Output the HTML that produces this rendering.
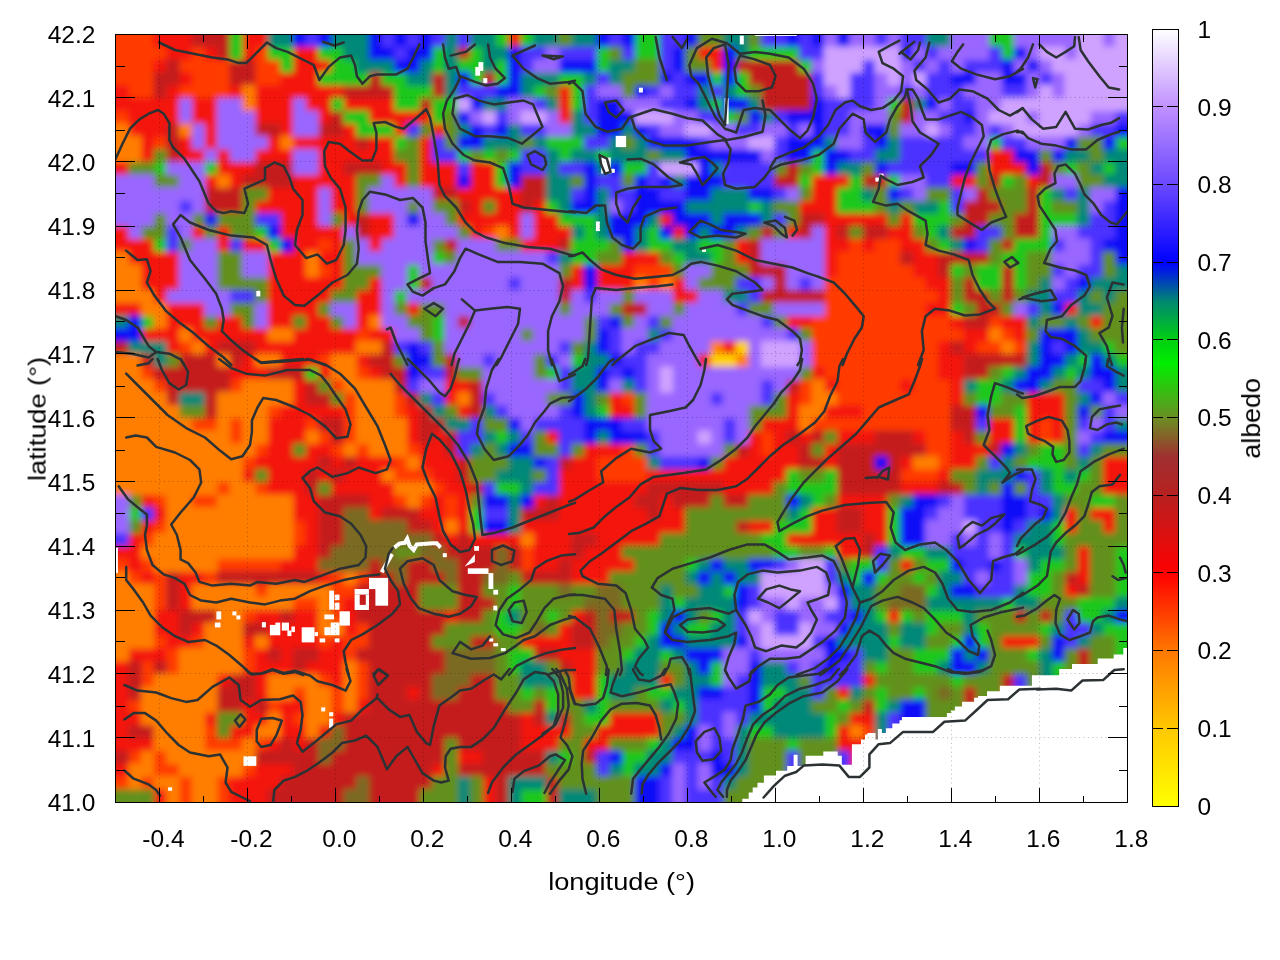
<!DOCTYPE html>
<html><head><meta charset="utf-8"><title>albedo</title>
<style>
html,body{margin:0;padding:0;background:#fff;}
body{width:1280px;height:960px;overflow:hidden;font-family:"Liberation Sans",sans-serif;}
svg{display:block}
text{font-family:"Liberation Sans",sans-serif;font-size:24.5px;fill:#000}
</style></head><body>
<svg width="1280" height="960" viewBox="0 0 1280 960">
<defs>
<filter id="bl" x="-3%" y="-3%" width="106%" height="106%"><feGaussianBlur stdDeviation="3.2"/></filter>
<filter id="b2" x="-3%" y="-3%" width="106%" height="106%"><feGaussianBlur stdDeviation="0.7"/></filter>
<clipPath id="cp"><rect x="116" y="35" width="1011" height="767"/></clipPath>
<linearGradient id="cb" x1="0" y1="1" x2="0" y2="0">
<stop offset="0" stop-color="#ffff00"/><stop offset="0.1" stop-color="#ffc800"/><stop offset="0.2" stop-color="#ff7800"/>
<stop offset="0.3" stop-color="#ff0000"/><stop offset="0.4" stop-color="#b82020"/><stop offset="0.45" stop-color="#a03030"/><stop offset="0.5" stop-color="#6b8e23"/>
<stop offset="0.57" stop-color="#00ee00"/><stop offset="0.6" stop-color="#00d010"/><stop offset="0.65" stop-color="#008870"/><stop offset="0.7" stop-color="#0000ff"/>
<stop offset="0.8" stop-color="#6a48ff"/><stop offset="0.9" stop-color="#c090ff"/><stop offset="1" stop-color="#ffffff"/>
</linearGradient>
</defs>
<rect width="1280" height="960" fill="#fff"/>
<g clip-path="url(#cp)"><g filter="url(#bl)"><path fill="#ff3a00" d="M102.0 20.0H154.2V47.1H102.0zM102.0 46.5H166.9V59.9H102.0zM191.6 46.5H204.9V59.9H191.6zM254.8 46.5H268.1V59.9H254.8zM102.0 59.3H154.2V72.7H102.0zM178.9 59.3H230.2V72.7H178.9zM254.8 59.3H280.8V72.7H254.8zM102.0 72.1H154.2V85.5H102.0zM191.6 72.1H230.2V85.5H191.6zM254.8 72.1H280.8V85.5H254.8zM128.3 84.9H154.2V98.3H128.3zM178.9 84.9H230.2V98.3H178.9zM102.0 110.5H129.0V123.9H102.0zM153.6 136.1H166.9V149.5H153.6zM482.6 225.7H495.8V239.1H482.6zM318.1 238.5H331.4V251.9H318.1zM849.4 238.5H862.6V251.9H849.4zM874.7 238.5H900.6V251.9H874.7zM836.8 251.3H900.6V264.7H836.8zM318.1 264.1H331.4V277.5H318.1zM634.4 264.1H672.9V277.5H634.4zM836.8 264.1H913.2V277.5H836.8zM647.0 276.9H660.2V290.3H647.0zM824.1 276.9H925.9V290.3H824.1zM824.1 289.7H938.5V303.1H824.1zM824.1 302.5H925.9V315.9H824.1zM811.5 315.3H951.2V328.7H811.5zM988.6 315.3H1001.8V328.7H988.6zM356.1 328.1H369.3V341.5H356.1zM811.5 328.1H963.9V341.5H811.5zM1001.2 328.1H1014.4V341.5H1001.2zM178.9 340.9H192.2V354.3H178.9zM811.5 340.9H938.5V354.3H811.5zM975.9 340.9H1001.8V354.3H975.9zM1013.9 340.9H1027.1V354.3H1013.9zM318.1 353.7H331.4V367.1H318.1zM811.5 353.7H938.5V367.1H811.5zM141.0 366.5H154.2V379.9H141.0zM356.1 366.5H369.3V379.9H356.1zM824.1 366.5H938.5V379.9H824.1zM153.6 379.3H166.9V392.7H153.6zM229.6 379.3H242.8V392.7H229.6zM330.8 379.3H344.0V392.7H330.8zM798.8 379.3H812.0V392.7H798.8zM836.8 379.3H900.6V392.7H836.8zM912.7 379.3H951.2V392.7H912.7zM343.4 392.1H356.7V405.5H343.4zM394.0 392.1H407.2V405.5H394.0zM621.7 392.1H634.9V405.5H621.7zM798.8 392.1H812.0V405.5H798.8zM836.8 392.1H951.2V405.5H836.8zM267.5 404.9H280.8V418.3H267.5zM343.4 404.9H356.7V418.3H343.4zM394.0 404.9H407.2V418.3H394.0zM862.1 404.9H951.2V418.3H862.1zM191.6 417.7H217.5V431.1H191.6zM229.6 417.7H242.8V431.1H229.6zM305.4 417.7H318.7V431.1H305.4zM343.4 417.7H356.7V431.1H343.4zM811.5 417.7H951.2V431.1H811.5zM1039.2 417.7H1052.4V431.1H1039.2zM229.6 430.5H242.8V443.9H229.6zM318.1 430.5H331.4V443.9H318.1zM343.4 430.5H356.7V443.9H343.4zM760.9 430.5H774.1V443.9H760.9zM925.3 430.5H951.2V443.9H925.3zM1039.2 430.5H1052.4V443.9H1039.2zM254.8 443.3H268.1V456.7H254.8zM330.8 443.3H344.0V456.7H330.8zM356.1 443.3H369.3V456.7H356.1zM406.6 443.3H419.9V456.7H406.6zM621.7 443.3H634.9V456.7H621.7zM760.9 443.3H774.1V456.7H760.9zM925.3 443.3H951.2V456.7H925.3zM242.2 456.1H255.5V469.5H242.2zM394.0 456.1H407.2V469.5H394.0zM596.4 456.1H647.6V469.5H596.4zM938.0 456.1H951.2V469.5H938.0zM394.0 468.9H432.6V482.3H394.0zM596.4 468.9H647.6V482.3H596.4zM900.0 468.9H938.5V482.3H900.0zM216.9 481.7H230.2V495.1H216.9zM254.8 481.7H268.1V495.1H254.8zM431.9 481.7H445.2V495.1H431.9zM153.6 494.5H166.9V507.9H153.6zM191.6 494.5H217.5V507.9H191.6zM394.0 494.5H407.2V507.9H394.0zM419.3 494.5H432.6V507.9H419.3zM444.6 494.5H457.9V507.9H444.6zM444.6 507.3H457.9V520.7H444.6zM153.6 520.1H166.9V533.5H153.6zM292.8 520.1H306.1V533.5H292.8zM141.0 532.9H154.2V546.3H141.0zM292.8 532.9H306.1V546.3H292.8zM520.5 545.7H533.8V559.1H520.5zM102.0 558.5H129.0V571.9H102.0zM141.0 558.5H154.2V571.9H141.0zM216.9 558.5H280.8V571.9H216.9zM520.5 558.5H533.8V571.9H520.5zM128.3 571.3H141.6V584.7H128.3zM153.6 571.3H166.9V584.7H153.6zM204.2 571.3H217.5V584.7H204.2zM330.8 571.3H344.0V584.7H330.8zM356.1 571.3H369.3V584.7H356.1zM153.6 584.1H166.9V597.5H153.6zM254.8 584.1H268.1V597.5H254.8zM330.8 584.1H356.7V597.5H330.8zM153.6 596.9H166.9V610.3H153.6zM292.8 596.9H318.7V610.3H292.8zM330.8 596.9H344.0V610.3H330.8zM242.2 609.7H255.5V623.1H242.2zM330.8 609.7H344.0V623.1H330.8zM356.1 622.5H369.3V635.9H356.1zM153.6 635.3H166.9V648.7H153.6zM191.6 635.3H204.9V648.7H191.6zM318.1 635.3H331.4V648.7H318.1zM343.4 635.3H369.3V648.7H343.4zM166.3 648.1H179.6V661.5H166.3zM242.2 648.1H255.5V661.5H242.2zM343.4 648.1H356.7V661.5H343.4zM141.0 660.9H154.2V674.3H141.0zM166.3 660.9H179.6V674.3H166.3zM242.2 660.9H255.5V674.3H242.2zM356.1 660.9H369.3V674.3H356.1zM141.0 673.7H154.2V687.1H141.0zM318.1 673.7H331.4V687.1H318.1zM356.1 673.7H369.3V687.1H356.1zM292.8 686.5H306.1V699.9H292.8zM330.8 686.5H344.0V699.9H330.8zM356.1 686.5H369.3V699.9H356.1zM128.3 699.3H141.6V712.7H128.3zM267.5 699.3H280.8V712.7H267.5zM330.8 699.3H344.0V712.7H330.8zM292.8 712.1H306.1V725.5H292.8zM204.2 724.9H217.5V738.3H204.2zM862.1 724.9H875.3V738.3H862.1zM204.2 737.7H242.8V751.1H204.2zM254.8 737.7H268.1V751.1H254.8zM862.1 737.7H875.3V751.1H862.1zM128.3 750.5H141.6V763.9H128.3zM153.6 750.5H166.9V763.9H153.6zM862.1 750.5H875.3V763.9H862.1zM153.6 763.3H179.6V776.7H153.6zM242.2 763.3H255.5V776.7H242.2zM862.1 763.3H875.3V776.7H862.1zM102.0 776.1H129.0V789.5H102.0zM141.0 776.1H154.2V789.5H141.0zM178.9 776.1H192.2V789.5H178.9zM216.9 776.1H230.2V789.5H216.9zM862.1 776.1H875.3V789.5H862.1zM178.9 788.9H192.2V816.0H178.9zM216.9 788.9H230.2V816.0H216.9zM862.1 788.9H875.3V816.0H862.1z"/><path fill="#f41410" d="M153.6 20.0H192.2V47.1H153.6zM242.2 20.0H268.1V47.1H242.2zM507.9 20.0H521.1V47.1H507.9zM166.3 46.5H192.2V59.9H166.3zM204.2 46.5H217.5V59.9H204.2zM242.2 46.5H255.5V59.9H242.2zM292.8 46.5H318.7V59.9H292.8zM697.6 46.5H723.5V59.9H697.6zM153.6 59.3H166.9V72.7H153.6zM292.8 59.3H331.4V72.7H292.8zM710.3 59.3H723.5V72.7H710.3zM178.9 72.1H192.2V85.5H178.9zM280.2 72.1H318.7V85.5H280.2zM102.0 84.9H129.0V98.3H102.0zM166.3 84.9H179.6V98.3H166.3zM229.6 84.9H242.8V98.3H229.6zM254.8 84.9H344.0V98.3H254.8zM558.5 84.9H571.7V98.3H558.5zM102.0 97.7H179.6V111.1H102.0zM191.6 97.7H217.5V111.1H191.6zM254.8 97.7H293.4V111.1H254.8zM305.4 97.7H331.4V111.1H305.4zM343.4 97.7H394.6V111.1H343.4zM558.5 97.7H571.7V111.1H558.5zM128.3 110.5H179.6V123.9H128.3zM191.6 110.5H217.5V123.9H191.6zM254.8 110.5H293.4V123.9H254.8zM318.1 110.5H331.4V123.9H318.1zM368.7 110.5H432.6V123.9H368.7zM558.5 110.5H571.7V123.9H558.5zM128.3 123.3H166.9V136.7H128.3zM204.2 123.3H217.5V136.7H204.2zM280.2 123.3H293.4V136.7H280.2zM343.4 123.3H356.7V136.7H343.4zM394.0 123.3H407.2V136.7H394.0zM431.9 123.3H445.2V136.7H431.9zM141.0 136.1H154.2V149.5H141.0zM178.9 136.1H192.2V149.5H178.9zM204.2 136.1H217.5V149.5H204.2zM267.5 136.1H280.8V149.5H267.5zM292.8 136.1H356.7V149.5H292.8zM368.7 136.1H394.6V149.5H368.7zM419.3 136.1H432.6V149.5H419.3zM141.0 148.9H154.2V162.3H141.0zM178.9 148.9H204.9V162.3H178.9zM216.9 148.9H230.2V162.3H216.9zM254.8 148.9H293.4V162.3H254.8zM318.1 148.9H394.6V162.3H318.1zM419.3 148.9H432.6V162.3H419.3zM988.6 148.9H1014.4V162.3H988.6zM102.0 161.7H129.0V175.1H102.0zM216.9 161.7H255.5V175.1H216.9zM318.1 161.7H344.0V175.1H318.1zM381.4 161.7H407.2V175.1H381.4zM419.3 161.7H457.9V175.1H419.3zM469.9 161.7H495.8V175.1H469.9zM988.6 161.7H1027.1V175.1H988.6zM204.2 174.5H217.5V187.9H204.2zM229.6 174.5H242.8V187.9H229.6zM292.8 174.5H356.7V187.9H292.8zM394.0 174.5H407.2V187.9H394.0zM419.3 174.5H457.9V187.9H419.3zM469.9 174.5H495.8V187.9H469.9zM811.5 174.5H850.0V187.9H811.5zM950.6 174.5H976.5V187.9H950.6zM1026.5 174.5H1039.8V187.9H1026.5zM267.5 187.3H318.7V200.7H267.5zM330.8 187.3H356.7V200.7H330.8zM457.2 187.3H521.1V200.7H457.2zM811.5 187.3H837.4V200.7H811.5zM254.8 200.1H318.7V213.5H254.8zM330.8 200.1H356.7V213.5H330.8zM469.9 200.1H483.2V213.5H469.9zM495.2 200.1H521.1V213.5H495.2zM533.2 200.1H546.4V213.5H533.2zM798.8 200.1H837.4V213.5H798.8zM280.2 212.9H318.7V226.3H280.2zM343.4 212.9H356.7V226.3H343.4zM368.7 212.9H394.6V226.3H368.7zM457.2 212.9H521.1V226.3H457.2zM533.2 212.9H559.0V226.3H533.2zM659.7 212.9H672.9V226.3H659.7zM824.1 212.9H887.9V226.3H824.1zM900.0 212.9H913.2V226.3H900.0zM102.0 225.7H129.0V239.1H102.0zM191.6 225.7H204.9V239.1H191.6zM216.9 225.7H230.2V239.1H216.9zM280.2 225.7H344.0V239.1H280.2zM368.7 225.7H394.6V239.1H368.7zM469.9 225.7H483.2V239.1H469.9zM507.9 225.7H521.1V239.1H507.9zM533.2 225.7H571.7V239.1H533.2zM672.3 225.7H685.5V239.1H672.3zM786.2 225.7H799.4V239.1H786.2zM824.1 225.7H837.4V239.1H824.1zM887.4 225.7H913.2V239.1H887.4zM102.0 238.5H154.2V251.9H102.0zM216.9 238.5H230.2V251.9H216.9zM242.2 238.5H268.1V251.9H242.2zM292.8 238.5H318.7V251.9H292.8zM330.8 238.5H344.0V251.9H330.8zM368.7 238.5H382.0V251.9H368.7zM520.5 238.5H559.0V251.9H520.5zM735.6 238.5H748.8V251.9H735.6zM824.1 238.5H850.0V251.9H824.1zM862.1 238.5H875.3V251.9H862.1zM900.0 238.5H925.9V251.9H900.0zM128.3 251.3H179.6V264.7H128.3zM267.5 251.3H306.1V264.7H267.5zM318.1 251.3H344.0V264.7H318.1zM621.7 251.3H660.2V264.7H621.7zM735.6 251.3H748.8V264.7H735.6zM824.1 251.3H837.4V264.7H824.1zM912.7 251.3H938.5V264.7H912.7zM141.0 264.1H179.6V277.5H141.0zM267.5 264.1H306.1V277.5H267.5zM330.8 264.1H344.0V277.5H330.8zM571.1 264.1H584.3V277.5H571.1zM596.4 264.1H634.9V277.5H596.4zM824.1 264.1H837.4V277.5H824.1zM912.7 264.1H938.5V277.5H912.7zM141.0 276.9H179.6V290.3H141.0zM267.5 276.9H344.0V290.3H267.5zM368.7 276.9H382.0V290.3H368.7zM571.1 276.9H584.3V290.3H571.1zM596.4 276.9H634.9V290.3H596.4zM672.3 276.9H685.5V290.3H672.3zM925.3 276.9H951.2V290.3H925.3zM153.6 289.7H166.9V303.1H153.6zM267.5 289.7H331.4V303.1H267.5zM356.1 289.7H382.0V303.1H356.1zM672.3 289.7H698.2V303.1H672.3zM938.0 289.7H951.2V303.1H938.0zM102.0 302.5H141.6V315.9H102.0zM166.3 302.5H204.9V315.9H166.3zM267.5 302.5H318.7V315.9H267.5zM356.1 302.5H382.0V315.9H356.1zM406.6 302.5H419.9V315.9H406.6zM925.3 302.5H951.2V315.9H925.3zM1064.5 302.5H1077.7V315.9H1064.5zM166.3 315.3H204.9V328.7H166.3zM216.9 315.3H242.8V328.7H216.9zM267.5 315.3H293.4V328.7H267.5zM305.4 315.3H331.4V328.7H305.4zM356.1 315.3H369.3V328.7H356.1zM786.2 315.3H812.0V328.7H786.2zM950.6 315.3H963.9V328.7H950.6zM1001.2 315.3H1027.1V328.7H1001.2zM1089.8 315.3H1103.0V328.7H1089.8zM141.0 328.1H179.6V341.5H141.0zM191.6 328.1H268.1V341.5H191.6zM292.8 328.1H356.7V341.5H292.8zM368.7 328.1H394.6V341.5H368.7zM963.3 328.1H989.1V341.5H963.3zM1013.9 328.1H1027.1V341.5H1013.9zM166.3 340.9H179.6V354.3H166.3zM204.2 340.9H217.5V354.3H204.2zM254.8 340.9H356.7V354.3H254.8zM722.9 340.9H736.1V354.3H722.9zM938.0 340.9H951.2V354.3H938.0zM963.3 340.9H976.5V354.3H963.3zM242.2 353.7H255.5V367.1H242.2zM280.2 353.7H318.7V367.1H280.2zM356.1 353.7H369.3V367.1H356.1zM697.6 353.7H710.9V367.1H697.6zM938.0 353.7H963.9V367.1H938.0zM229.6 366.5H268.1V379.9H229.6zM318.1 366.5H331.4V379.9H318.1zM368.7 366.5H382.0V379.9H368.7zM811.5 366.5H824.7V379.9H811.5zM938.0 366.5H963.9V379.9H938.0zM292.8 379.3H306.1V392.7H292.8zM444.6 379.3H470.5V392.7H444.6zM824.1 379.3H837.4V392.7H824.1zM900.0 379.3H913.2V392.7H900.0zM950.6 379.3H963.9V392.7H950.6zM292.8 392.1H306.1V405.5H292.8zM444.6 392.1H457.9V405.5H444.6zM609.1 392.1H622.3V405.5H609.1zM786.2 392.1H799.4V405.5H786.2zM950.6 392.1H963.9V405.5H950.6zM1026.5 392.1H1065.0V405.5H1026.5zM280.2 404.9H344.0V418.3H280.2zM406.6 404.9H419.9V418.3H406.6zM457.2 404.9H470.5V418.3H457.2zM609.1 404.9H634.9V418.3H609.1zM786.2 404.9H799.4V418.3H786.2zM824.1 404.9H862.6V418.3H824.1zM1026.5 404.9H1065.0V418.3H1026.5zM267.5 417.7H306.1V431.1H267.5zM406.6 417.7H419.9V431.1H406.6zM760.9 417.7H799.4V431.1H760.9zM988.6 417.7H1014.4V431.1H988.6zM1026.5 417.7H1039.8V431.1H1026.5zM1051.8 417.7H1065.0V431.1H1051.8zM267.5 430.5H306.1V443.9H267.5zM406.6 430.5H419.9V443.9H406.6zM431.9 430.5H445.2V443.9H431.9zM545.8 430.5H559.0V443.9H545.8zM748.2 430.5H761.4V443.9H748.2zM773.5 430.5H786.8V443.9H773.5zM798.8 430.5H812.0V443.9H798.8zM836.8 430.5H875.3V443.9H836.8zM912.7 430.5H925.9V443.9H912.7zM950.6 430.5H963.9V443.9H950.6zM988.6 430.5H1014.4V443.9H988.6zM1026.5 430.5H1039.8V443.9H1026.5zM1051.8 430.5H1065.0V443.9H1051.8zM267.5 443.3H293.4V456.7H267.5zM305.4 443.3H331.4V456.7H305.4zM419.3 443.3H445.2V456.7H419.3zM583.8 443.3H622.3V456.7H583.8zM748.2 443.3H761.4V456.7H748.2zM773.5 443.3H799.4V456.7H773.5zM824.1 443.3H837.4V456.7H824.1zM950.6 443.3H989.1V456.7H950.6zM254.8 456.1H318.7V469.5H254.8zM330.8 456.1H344.0V469.5H330.8zM356.1 456.1H394.6V469.5H356.1zM419.3 456.1H457.9V469.5H419.3zM571.1 456.1H597.0V469.5H571.1zM722.9 456.1H799.4V469.5H722.9zM824.1 456.1H837.4V469.5H824.1zM900.0 456.1H913.2V469.5H900.0zM950.6 456.1H976.5V469.5H950.6zM1102.4 456.1H1142.0V469.5H1102.4zM242.2 468.9H255.5V482.3H242.2zM267.5 468.9H306.1V482.3H267.5zM318.1 468.9H331.4V482.3H318.1zM343.4 468.9H382.0V482.3H343.4zM431.9 468.9H457.9V482.3H431.9zM558.5 468.9H597.0V482.3H558.5zM647.0 468.9H786.8V482.3H647.0zM938.0 468.9H951.2V482.3H938.0zM1102.4 468.9H1142.0V482.3H1102.4zM267.5 481.7H306.1V495.1H267.5zM330.8 481.7H394.6V495.1H330.8zM444.6 481.7H470.5V495.1H444.6zM558.5 481.7H647.6V495.1H558.5zM722.9 481.7H774.1V495.1H722.9zM900.0 481.7H938.5V495.1H900.0zM1102.4 481.7H1142.0V495.1H1102.4zM141.0 494.5H154.2V507.9H141.0zM292.8 494.5H318.7V507.9H292.8zM368.7 494.5H394.6V507.9H368.7zM431.9 494.5H445.2V507.9H431.9zM457.2 494.5H470.5V507.9H457.2zM533.2 494.5H546.4V507.9H533.2zM558.5 494.5H634.9V507.9H558.5zM659.7 494.5H672.9V507.9H659.7zM836.8 494.5H887.9V507.9H836.8zM153.6 507.3H166.9V520.7H153.6zM292.8 507.3H318.7V520.7H292.8zM368.7 507.3H382.0V520.7H368.7zM419.3 507.3H445.2V520.7H419.3zM457.2 507.3H470.5V520.7H457.2zM558.5 507.3H647.6V520.7H558.5zM659.7 507.3H685.5V520.7H659.7zM811.5 507.3H837.4V520.7H811.5zM862.1 507.3H887.9V520.7H862.1zM1064.5 507.3H1077.7V520.7H1064.5zM1089.8 507.3H1115.6V520.7H1089.8zM141.0 520.1H154.2V533.5H141.0zM305.4 520.1H318.7V533.5H305.4zM431.9 520.1H445.2V533.5H431.9zM457.2 520.1H470.5V533.5H457.2zM520.5 520.1H685.5V533.5H520.5zM748.2 520.1H774.1V533.5H748.2zM811.5 520.1H837.4V533.5H811.5zM862.1 520.1H887.9V533.5H862.1zM1064.5 520.1H1077.7V533.5H1064.5zM1102.4 520.1H1115.6V533.5H1102.4zM128.3 532.9H141.6V546.3H128.3zM305.4 532.9H318.7V546.3H305.4zM444.6 532.9H457.9V546.3H444.6zM469.9 532.9H521.1V546.3H469.9zM533.2 532.9H571.7V546.3H533.2zM596.4 532.9H660.2V546.3H596.4zM786.2 532.9H862.6V546.3H786.2zM874.7 532.9H887.9V546.3H874.7zM102.0 545.7H141.6V559.1H102.0zM292.8 545.7H318.7V559.1H292.8zM533.2 545.7H571.7V559.1H533.2zM583.8 545.7H622.3V559.1H583.8zM836.8 545.7H862.6V559.1H836.8zM1077.1 545.7H1090.4V559.1H1077.1zM128.3 558.5H141.6V571.9H128.3zM280.2 558.5H318.7V571.9H280.2zM533.2 558.5H559.0V571.9H533.2zM571.1 558.5H634.9V571.9H571.1zM900.0 558.5H913.2V571.9H900.0zM1077.1 558.5H1090.4V571.9H1077.1zM141.0 571.3H154.2V584.7H141.0zM178.9 571.3H204.9V584.7H178.9zM318.1 571.3H331.4V584.7H318.1zM571.1 571.3H609.6V584.7H571.1zM1077.1 571.3H1090.4V584.7H1077.1zM178.9 584.1H192.2V597.5H178.9zM1064.5 584.1H1077.7V597.5H1064.5zM178.9 596.9H192.2V610.3H178.9zM343.4 596.9H356.7V610.3H343.4zM153.6 609.7H179.6V623.1H153.6zM254.8 609.7H280.8V623.1H254.8zM292.8 609.7H318.7V623.1H292.8zM343.4 609.7H356.7V623.1H343.4zM444.6 609.7H457.9V623.1H444.6zM571.1 609.7H584.3V623.1H571.1zM887.4 609.7H900.6V623.1H887.4zM153.6 622.5H179.6V635.9H153.6zM191.6 622.5H204.9V635.9H191.6zM267.5 622.5H318.7V635.9H267.5zM343.4 622.5H356.7V635.9H343.4zM558.5 622.5H571.7V635.9H558.5zM166.3 635.3H192.2V648.7H166.3zM242.2 635.3H255.5V648.7H242.2zM267.5 635.3H318.7V648.7H267.5zM330.8 635.3H344.0V648.7H330.8zM520.5 635.3H571.7V648.7H520.5zM1001.2 635.3H1039.8V648.7H1001.2zM128.3 648.1H166.9V661.5H128.3zM254.8 648.1H268.1V661.5H254.8zM280.2 648.1H293.4V661.5H280.2zM318.1 648.1H344.0V661.5H318.1zM558.5 648.1H597.0V661.5H558.5zM102.0 660.9H129.0V674.3H102.0zM254.8 660.9H293.4V674.3H254.8zM305.4 660.9H344.0V674.3H305.4zM571.1 660.9H597.0V674.3H571.1zM102.0 673.7H129.0V687.1H102.0zM216.9 673.7H230.2V687.1H216.9zM254.8 673.7H268.1V687.1H254.8zM330.8 673.7H344.0V687.1H330.8zM571.1 673.7H597.0V687.1H571.1zM659.7 673.7H672.9V687.1H659.7zM862.1 673.7H875.3V687.1H862.1zM102.0 686.5H129.0V699.9H102.0zM254.8 686.5H268.1V699.9H254.8zM406.6 686.5H419.9V699.9H406.6zM571.1 686.5H597.0V699.9H571.1zM836.8 686.5H850.0V699.9H836.8zM102.0 699.3H129.0V712.7H102.0zM242.2 699.3H255.5V712.7H242.2zM280.2 699.3H306.1V712.7H280.2zM356.1 699.3H369.3V712.7H356.1zM102.0 712.1H141.6V725.5H102.0zM204.2 712.1H217.5V725.5H204.2zM242.2 712.1H268.1V725.5H242.2zM280.2 712.1H293.4V725.5H280.2zM330.8 712.1H344.0V725.5H330.8zM520.5 712.1H533.8V725.5H520.5zM609.1 712.1H660.2V725.5H609.1zM849.4 712.1H875.3V725.5H849.4zM102.0 724.9H129.0V738.3H102.0zM229.6 724.9H255.5V738.3H229.6zM280.2 724.9H306.1V738.3H280.2zM318.1 724.9H331.4V738.3H318.1zM520.5 724.9H571.7V738.3H520.5zM596.4 724.9H660.2V738.3H596.4zM836.8 724.9H850.0V738.3H836.8zM102.0 737.7H154.2V751.1H102.0zM267.5 737.7H280.8V751.1H267.5zM292.8 737.7H306.1V751.1H292.8zM520.5 737.7H559.0V751.1H520.5zM583.8 737.7H609.6V751.1H583.8zM836.8 737.7H862.6V751.1H836.8zM457.2 750.5H483.2V763.9H457.2zM849.4 750.5H862.6V763.9H849.4zM102.0 763.3H129.0V776.7H102.0zM254.8 763.3H293.4V776.7H254.8zM431.9 763.3H445.2V776.7H431.9zM849.4 763.3H862.6V776.7H849.4zM229.6 776.1H280.8V789.5H229.6zM482.6 776.1H495.8V789.5H482.6zM849.4 776.1H862.6V789.5H849.4zM153.6 788.9H166.9V816.0H153.6zM229.6 788.9H268.1V816.0H229.6zM482.6 788.9H495.8V816.0H482.6zM849.4 788.9H862.6V816.0H849.4z"/><path fill="#c41e1e" d="M191.6 20.0H230.2V47.1H191.6zM216.9 46.5H230.2V59.9H216.9zM457.2 46.5H470.5V59.9H457.2zM166.3 59.3H179.6V72.7H166.3zM229.6 59.3H255.5V72.7H229.6zM735.6 59.3H799.4V72.7H735.6zM153.6 72.1H179.6V85.5H153.6zM229.6 72.1H255.5V85.5H229.6zM368.7 72.1H382.0V85.5H368.7zM431.9 72.1H445.2V85.5H431.9zM482.6 72.1H495.8V85.5H482.6zM748.2 72.1H812.0V85.5H748.2zM153.6 84.9H166.9V98.3H153.6zM343.4 84.9H394.6V98.3H343.4zM431.9 84.9H445.2V98.3H431.9zM760.9 84.9H812.0V98.3H760.9zM419.3 97.7H432.6V111.1H419.3zM760.9 97.7H812.0V111.1H760.9zM900.0 97.7H913.2V111.1H900.0zM330.8 110.5H344.0V123.9H330.8zM900.0 110.5H913.2V123.9H900.0zM166.3 123.3H179.6V136.7H166.3zM254.8 123.3H280.8V136.7H254.8zM318.1 123.3H344.0V136.7H318.1zM166.3 136.1H179.6V149.5H166.3zM356.1 136.1H369.3V149.5H356.1zM166.3 148.9H179.6V162.3H166.3zM254.8 161.7H293.4V175.1H254.8zM343.4 161.7H382.0V175.1H343.4zM786.2 161.7H799.4V175.1H786.2zM1039.2 161.7H1052.4V175.1H1039.2zM242.2 174.5H293.4V187.9H242.2zM520.5 174.5H546.4V187.9H520.5zM773.5 174.5H799.4V187.9H773.5zM862.1 174.5H887.9V187.9H862.1zM988.6 174.5H1001.8V187.9H988.6zM1039.2 174.5H1052.4V187.9H1039.2zM204.2 187.3H242.8V200.7H204.2zM431.9 187.3H457.9V200.7H431.9zM520.5 187.3H546.4V200.7H520.5zM975.9 187.3H989.1V200.7H975.9zM1026.5 187.3H1039.8V200.7H1026.5zM204.2 200.1H242.8V213.5H204.2zM457.2 200.1H470.5V213.5H457.2zM520.5 200.1H533.8V213.5H520.5zM963.3 200.1H1001.8V213.5H963.3zM1026.5 200.1H1039.8V213.5H1026.5zM356.1 212.9H369.3V226.3H356.1zM798.8 212.9H824.7V226.3H798.8zM963.3 212.9H989.1V226.3H963.3zM1013.9 212.9H1039.8V226.3H1013.9zM356.1 225.7H369.3V239.1H356.1zM760.9 225.7H774.1V239.1H760.9zM798.8 225.7H812.0V239.1H798.8zM836.8 225.7H850.0V239.1H836.8zM862.1 225.7H887.9V239.1H862.1zM950.6 225.7H976.5V239.1H950.6zM1013.9 225.7H1039.8V239.1H1013.9zM444.6 238.5H457.9V251.9H444.6zM558.5 238.5H571.7V251.9H558.5zM748.2 238.5H761.4V251.9H748.2zM1001.2 238.5H1014.4V251.9H1001.2zM748.2 251.3H761.4V264.7H748.2zM900.0 251.3H913.2V264.7H900.0zM938.0 251.3H989.1V264.7H938.0zM748.2 264.1H786.8V277.5H748.2zM938.0 264.1H951.2V277.5H938.0zM1001.2 264.1H1014.4V277.5H1001.2zM419.3 276.9H432.6V290.3H419.3zM558.5 276.9H571.7V290.3H558.5zM773.5 276.9H786.8V290.3H773.5zM963.3 276.9H976.5V290.3H963.3zM1001.2 276.9H1014.4V290.3H1001.2zM558.5 289.7H571.7V303.1H558.5zM760.9 289.7H824.7V303.1H760.9zM963.3 289.7H989.1V303.1H963.3zM1001.2 289.7H1014.4V303.1H1001.2zM621.7 302.5H647.6V315.9H621.7zM975.9 302.5H1001.8V315.9H975.9zM457.2 315.3H470.5V328.7H457.2zM963.3 315.3H989.1V328.7H963.3zM102.0 340.9H129.0V354.3H102.0zM216.9 340.9H255.5V354.3H216.9zM381.4 340.9H394.6V354.3H381.4zM950.6 340.9H963.9V354.3H950.6zM141.0 353.7H154.2V367.1H141.0zM178.9 353.7H217.5V367.1H178.9zM229.6 353.7H242.8V367.1H229.6zM368.7 353.7H394.6V367.1H368.7zM444.6 353.7H457.9V367.1H444.6zM963.3 353.7H1027.1V367.1H963.3zM153.6 366.5H230.2V379.9H153.6zM267.5 366.5H306.1V379.9H267.5zM381.4 366.5H407.2V379.9H381.4zM444.6 366.5H457.9V379.9H444.6zM963.3 366.5H989.1V379.9H963.3zM166.3 379.3H230.2V392.7H166.3zM305.4 379.3H318.7V392.7H305.4zM394.0 379.3H407.2V392.7H394.0zM469.9 379.3H483.2V392.7H469.9zM786.2 379.3H799.4V392.7H786.2zM166.3 392.1H179.6V405.5H166.3zM204.2 392.1H217.5V405.5H204.2zM305.4 392.1H331.4V405.5H305.4zM406.6 392.1H419.9V405.5H406.6zM469.9 392.1H483.2V405.5H469.9zM204.2 404.9H217.5V418.3H204.2zM419.3 404.9H432.6V418.3H419.3zM469.9 404.9H483.2V418.3H469.9zM950.6 404.9H976.5V418.3H950.6zM318.1 417.7H344.0V431.1H318.1zM419.3 417.7H445.2V431.1H419.3zM950.6 417.7H976.5V431.1H950.6zM330.8 430.5H344.0V443.9H330.8zM419.3 430.5H432.6V443.9H419.3zM444.6 430.5H457.9V443.9H444.6zM786.2 430.5H799.4V443.9H786.2zM811.5 430.5H824.7V443.9H811.5zM874.7 430.5H913.2V443.9H874.7zM963.3 430.5H976.5V443.9H963.3zM444.6 443.3H457.9V456.7H444.6zM735.6 443.3H748.8V456.7H735.6zM798.8 443.3H812.0V456.7H798.8zM836.8 443.3H925.9V456.7H836.8zM988.6 443.3H1001.8V456.7H988.6zM318.1 456.1H331.4V469.5H318.1zM343.4 456.1H356.7V469.5H343.4zM457.2 456.1H470.5V469.5H457.2zM558.5 456.1H571.7V469.5H558.5zM798.8 456.1H824.7V469.5H798.8zM836.8 456.1H875.3V469.5H836.8zM887.4 456.1H900.6V469.5H887.4zM305.4 468.9H318.7V482.3H305.4zM330.8 468.9H344.0V482.3H330.8zM457.2 468.9H470.5V482.3H457.2zM836.8 468.9H900.6V482.3H836.8zM305.4 481.7H318.7V495.1H305.4zM469.9 481.7H483.2V495.1H469.9zM647.0 481.7H723.5V495.1H647.0zM836.8 481.7H900.6V495.1H836.8zM938.0 481.7H963.9V495.1H938.0zM318.1 494.5H369.3V507.9H318.1zM545.8 494.5H559.0V507.9H545.8zM634.4 494.5H660.2V507.9H634.4zM672.3 494.5H710.9V507.9H672.3zM722.9 494.5H748.8V507.9H722.9zM318.1 507.3H344.0V520.7H318.1zM381.4 507.3H419.9V520.7H381.4zM520.5 507.3H559.0V520.7H520.5zM647.0 507.3H660.2V520.7H647.0zM836.8 507.3H862.6V520.7H836.8zM318.1 520.1H344.0V533.5H318.1zM406.6 520.1H432.6V533.5H406.6zM735.6 520.1H748.8V533.5H735.6zM836.8 520.1H862.6V533.5H836.8zM318.1 532.9H344.0V546.3H318.1zM431.9 532.9H445.2V546.3H431.9zM457.2 532.9H470.5V546.3H457.2zM571.1 532.9H597.0V546.3H571.1zM862.1 532.9H875.3V546.3H862.1zM318.1 545.7H331.4V559.1H318.1zM444.6 545.7H495.8V559.1H444.6zM507.9 545.7H521.1V559.1H507.9zM571.1 545.7H584.3V559.1H571.1zM862.1 545.7H875.3V559.1H862.1zM368.7 558.5H382.0V571.9H368.7zM406.6 558.5H432.6V571.9H406.6zM457.2 558.5H495.8V571.9H457.2zM507.9 558.5H521.1V571.9H507.9zM558.5 558.5H571.7V571.9H558.5zM166.3 571.3H179.6V584.7H166.3zM216.9 571.3H318.7V584.7H216.9zM368.7 571.3H394.6V584.7H368.7zM406.6 571.3H445.2V584.7H406.6zM457.2 571.3H483.2V584.7H457.2zM520.5 571.3H571.7V584.7H520.5zM1064.5 571.3H1077.7V584.7H1064.5zM166.3 584.1H179.6V597.5H166.3zM356.1 584.1H419.9V597.5H356.1zM457.2 584.1H483.2V597.5H457.2zM1077.1 584.1H1090.4V597.5H1077.1zM166.3 596.9H179.6V610.3H166.3zM356.1 596.9H419.9V610.3H356.1zM457.2 596.9H495.8V610.3H457.2zM178.9 609.7H217.5V623.1H178.9zM280.2 609.7H293.4V623.1H280.2zM356.1 609.7H445.2V623.1H356.1zM457.2 609.7H483.2V623.1H457.2zM583.8 609.7H597.0V623.1H583.8zM609.1 609.7H634.9V623.1H609.1zM1013.9 609.7H1027.1V623.1H1013.9zM1039.2 609.7H1052.4V623.1H1039.2zM178.9 622.5H192.2V635.9H178.9zM242.2 622.5H268.1V635.9H242.2zM368.7 622.5H445.2V635.9H368.7zM571.1 622.5H597.0V635.9H571.1zM368.7 635.3H432.6V648.7H368.7zM469.9 635.3H495.8V648.7H469.9zM571.1 635.3H597.0V648.7H571.1zM267.5 648.1H280.8V661.5H267.5zM292.8 648.1H318.7V661.5H292.8zM356.1 648.1H445.2V661.5H356.1zM533.2 648.1H559.0V661.5H533.2zM1077.1 648.1H1090.4V661.5H1077.1zM128.3 660.9H141.6V674.3H128.3zM153.6 660.9H166.9V674.3H153.6zM292.8 660.9H306.1V674.3H292.8zM368.7 660.9H445.2V674.3H368.7zM558.5 660.9H571.7V674.3H558.5zM1077.1 660.9H1090.4V674.3H1077.1zM128.3 673.7H141.6V687.1H128.3zM229.6 673.7H255.5V687.1H229.6zM368.7 673.7H432.6V687.1H368.7zM469.9 673.7H495.8V687.1H469.9zM1001.2 673.7H1014.4V687.1H1001.2zM1077.1 673.7H1090.4V687.1H1077.1zM128.3 686.5H141.6V699.9H128.3zM216.9 686.5H255.5V699.9H216.9zM368.7 686.5H407.2V699.9H368.7zM419.3 686.5H432.6V699.9H419.3zM457.2 686.5H495.8V699.9H457.2zM963.3 686.5H976.5V699.9H963.3zM1001.2 686.5H1014.4V699.9H1001.2zM1077.1 686.5H1090.4V699.9H1077.1zM216.9 699.3H242.8V712.7H216.9zM254.8 699.3H268.1V712.7H254.8zM368.7 699.3H508.5V712.7H368.7zM533.2 699.3H546.4V712.7H533.2zM862.1 699.3H875.3V712.7H862.1zM963.3 699.3H976.5V712.7H963.3zM1001.2 699.3H1014.4V712.7H1001.2zM1077.1 699.3H1090.4V712.7H1077.1zM343.4 712.1H521.1V725.5H343.4zM533.2 712.1H546.4V725.5H533.2zM558.5 712.1H571.7V725.5H558.5zM963.3 712.1H976.5V725.5H963.3zM1001.2 712.1H1014.4V725.5H1001.2zM1077.1 712.1H1090.4V725.5H1077.1zM128.3 724.9H154.2V738.3H128.3zM343.4 724.9H521.1V738.3H343.4zM963.3 724.9H976.5V738.3H963.3zM1001.2 724.9H1014.4V738.3H1001.2zM1077.1 724.9H1090.4V738.3H1077.1zM280.2 737.7H293.4V751.1H280.2zM305.4 737.7H318.7V751.1H305.4zM343.4 737.7H445.2V751.1H343.4zM457.2 737.7H521.1V751.1H457.2zM963.3 737.7H976.5V751.1H963.3zM1001.2 737.7H1014.4V751.1H1001.2zM1077.1 737.7H1090.4V751.1H1077.1zM102.0 750.5H129.0V763.9H102.0zM254.8 750.5H318.7V763.9H254.8zM330.8 750.5H445.2V763.9H330.8zM482.6 750.5H546.4V763.9H482.6zM583.8 750.5H597.0V763.9H583.8zM963.3 750.5H976.5V763.9H963.3zM1001.2 750.5H1014.4V763.9H1001.2zM1077.1 750.5H1090.4V763.9H1077.1zM292.8 763.3H432.6V776.7H292.8zM457.2 763.3H546.4V776.7H457.2zM963.3 763.3H976.5V776.7H963.3zM1001.2 763.3H1014.4V776.7H1001.2zM1077.1 763.3H1090.4V776.7H1077.1zM280.2 776.1H356.7V789.5H280.2zM368.7 776.1H432.6V789.5H368.7zM495.2 776.1H508.5V789.5H495.2zM545.8 776.1H559.0V789.5H545.8zM963.3 776.1H976.5V789.5H963.3zM1001.2 776.1H1014.4V789.5H1001.2zM1077.1 776.1H1090.4V789.5H1077.1zM267.5 788.9H344.0V816.0H267.5zM368.7 788.9H419.9V816.0H368.7zM495.2 788.9H508.5V816.0H495.2zM545.8 788.9H559.0V816.0H545.8zM963.3 788.9H976.5V816.0H963.3zM1001.2 788.9H1014.4V816.0H1001.2zM1077.1 788.9H1090.4V816.0H1077.1z"/><path fill="#1ec81c" d="M229.6 20.0H242.8V47.1H229.6zM495.2 20.0H508.5V47.1H495.2zM520.5 20.0H533.8V47.1H520.5zM634.4 20.0H660.2V47.1H634.4zM988.6 20.0H1014.4V47.1H988.6zM229.6 46.5H242.8V59.9H229.6zM267.5 46.5H293.4V59.9H267.5zM318.1 46.5H344.0V59.9H318.1zM431.9 46.5H445.2V59.9H431.9zM469.9 46.5H483.2V59.9H469.9zM596.4 46.5H609.6V59.9H596.4zM634.4 46.5H660.2V59.9H634.4zM748.2 46.5H799.4V59.9H748.2zM1001.2 46.5H1014.4V59.9H1001.2zM280.2 59.3H293.4V72.7H280.2zM330.8 59.3H356.7V72.7H330.8zM431.9 59.3H445.2V72.7H431.9zM457.2 59.3H483.2V72.7H457.2zM495.2 59.3H508.5V72.7H495.2zM596.4 59.3H609.6V72.7H596.4zM798.8 59.3H812.0V72.7H798.8zM318.1 72.1H369.3V85.5H318.1zM381.4 72.1H407.2V85.5H381.4zM469.9 72.1H483.2V85.5H469.9zM495.2 72.1H508.5V85.5H495.2zM558.5 72.1H584.3V85.5H558.5zM710.3 72.1H723.5V85.5H710.3zM735.6 72.1H748.8V85.5H735.6zM394.0 84.9H432.6V98.3H394.0zM533.2 84.9H546.4V98.3H533.2zM571.1 84.9H584.3V98.3H571.1zM735.6 84.9H748.8V98.3H735.6zM330.8 97.7H344.0V111.1H330.8zM394.0 97.7H419.9V111.1H394.0zM431.9 97.7H457.9V111.1H431.9zM571.1 97.7H584.3V111.1H571.1zM710.3 97.7H723.5V111.1H710.3zM887.4 97.7H900.6V111.1H887.4zM343.4 110.5H369.3V123.9H343.4zM431.9 110.5H445.2V123.9H431.9zM722.9 110.5H736.1V123.9H722.9zM356.1 123.3H394.6V136.7H356.1zM394.0 136.1H407.2V149.5H394.0zM545.8 136.1H584.3V149.5H545.8zM988.6 136.1H1001.8V149.5H988.6zM1115.0 136.1H1142.0V149.5H1115.0zM457.2 148.9H470.5V162.3H457.2zM482.6 148.9H495.8V162.3H482.6zM507.9 148.9H521.1V162.3H507.9zM558.5 148.9H571.7V162.3H558.5zM596.4 148.9H609.6V162.3H596.4zM811.5 148.9H824.7V162.3H811.5zM153.6 161.7H166.9V175.1H153.6zM204.2 161.7H217.5V175.1H204.2zM495.2 161.7H508.5V175.1H495.2zM621.7 161.7H647.6V175.1H621.7zM811.5 161.7H824.7V175.1H811.5zM1064.5 161.7H1077.7V175.1H1064.5zM1102.4 161.7H1115.6V175.1H1102.4zM495.2 174.5H508.5V187.9H495.2zM798.8 174.5H812.0V187.9H798.8zM849.4 174.5H862.6V187.9H849.4zM887.4 174.5H900.6V187.9H887.4zM1001.2 174.5H1014.4V187.9H1001.2zM836.8 187.3H862.6V200.7H836.8zM1039.2 187.3H1052.4V200.7H1039.2zM545.8 200.1H559.0V213.5H545.8zM748.2 200.1H761.4V213.5H748.2zM836.8 200.1H875.3V213.5H836.8zM938.0 200.1H951.2V213.5H938.0zM1039.2 200.1H1052.4V213.5H1039.2zM558.5 212.9H597.0V226.3H558.5zM912.7 212.9H951.2V226.3H912.7zM1039.2 212.9H1077.7V226.3H1039.2zM254.8 225.7H268.1V239.1H254.8zM583.8 225.7H597.0V239.1H583.8zM647.0 225.7H660.2V239.1H647.0zM925.3 225.7H938.5V239.1H925.3zM1039.2 225.7H1052.4V239.1H1039.2zM153.6 238.5H166.9V251.9H153.6zM267.5 238.5H280.8V251.9H267.5zM571.1 238.5H609.6V251.9H571.1zM647.0 238.5H672.9V251.9H647.0zM697.6 238.5H723.5V251.9H697.6zM938.0 238.5H951.2V251.9H938.0zM1013.9 238.5H1052.4V251.9H1013.9zM431.9 251.3H445.2V264.7H431.9zM571.1 251.3H597.0V264.7H571.1zM672.3 251.3H685.5V264.7H672.3zM710.3 251.3H723.5V264.7H710.3zM1001.2 251.3H1027.1V264.7H1001.2zM406.6 264.1H419.9V277.5H406.6zM950.6 264.1H963.9V277.5H950.6zM975.9 264.1H1001.8V277.5H975.9zM1013.9 264.1H1027.1V277.5H1013.9zM406.6 276.9H419.9V290.3H406.6zM975.9 276.9H1001.8V290.3H975.9zM1013.9 276.9H1027.1V290.3H1013.9zM394.0 289.7H407.2V303.1H394.0zM950.6 302.5H963.9V315.9H950.6zM141.0 315.3H154.2V328.7H141.0zM431.9 315.3H445.2V328.7H431.9zM431.9 328.1H445.2V341.5H431.9zM1102.4 340.9H1115.6V354.3H1102.4zM571.1 353.7H584.3V367.1H571.1zM1077.1 353.7H1090.4V367.1H1077.1zM1115.0 353.7H1142.0V367.1H1115.0zM305.4 366.5H318.7V379.9H305.4zM545.8 366.5H559.0V379.9H545.8zM1001.2 366.5H1014.4V379.9H1001.2zM1064.5 366.5H1077.7V379.9H1064.5zM975.9 379.3H1001.8V392.7H975.9zM975.9 392.1H1001.8V405.5H975.9zM596.4 404.9H609.6V418.3H596.4zM1013.9 404.9H1027.1V418.3H1013.9zM1013.9 417.7H1027.1V431.1H1013.9zM495.2 430.5H508.5V443.9H495.2zM1013.9 430.5H1027.1V443.9H1013.9zM1039.2 443.3H1065.0V456.7H1039.2zM1026.5 456.1H1065.0V469.5H1026.5zM786.2 468.9H799.4V482.3H786.2zM824.1 468.9H837.4V482.3H824.1zM1051.8 468.9H1065.0V482.3H1051.8zM1077.1 468.9H1090.4V482.3H1077.1zM495.2 481.7H521.1V495.1H495.2zM786.2 481.7H837.4V495.1H786.2zM1051.8 481.7H1077.7V495.1H1051.8zM811.5 494.5H824.7V507.9H811.5zM1089.8 494.5H1115.6V507.9H1089.8zM128.3 507.3H141.6V520.7H128.3zM469.9 507.3H483.2V520.7H469.9zM798.8 507.3H812.0V520.7H798.8zM887.4 507.3H900.6V520.7H887.4zM469.9 520.1H483.2V533.5H469.9zM773.5 520.1H812.0V533.5H773.5zM887.4 520.1H900.6V533.5H887.4zM1051.8 520.1H1065.0V533.5H1051.8zM760.9 532.9H786.8V546.3H760.9zM887.4 532.9H900.6V546.3H887.4zM1051.8 532.9H1065.0V546.3H1051.8zM773.5 545.7H799.4V559.1H773.5zM824.1 545.7H837.4V559.1H824.1zM900.0 545.7H925.9V559.1H900.0zM1013.9 545.7H1027.1V559.1H1013.9zM1115.0 545.7H1142.0V559.1H1115.0zM685.0 558.5H698.2V571.9H685.0zM849.4 558.5H875.3V571.9H849.4zM925.3 558.5H951.2V571.9H925.3zM1039.2 558.5H1065.0V571.9H1039.2zM1115.0 558.5H1142.0V571.9H1115.0zM849.4 571.3H862.6V584.7H849.4zM874.7 571.3H887.9V584.7H874.7zM912.7 571.3H925.9V584.7H912.7zM1026.5 571.3H1052.4V584.7H1026.5zM1115.0 571.3H1142.0V584.7H1115.0zM507.9 584.1H521.1V597.5H507.9zM722.9 584.1H736.1V597.5H722.9zM925.3 584.1H938.5V597.5H925.3zM1026.5 584.1H1052.4V597.5H1026.5zM1115.0 584.1H1142.0V597.5H1115.0zM507.9 596.9H521.1V610.3H507.9zM672.3 596.9H685.5V610.3H672.3zM1001.2 596.9H1014.4V610.3H1001.2zM1077.1 596.9H1115.6V610.3H1077.1zM495.2 609.7H508.5V623.1H495.2zM545.8 609.7H559.0V623.1H545.8zM647.0 609.7H660.2V623.1H647.0zM710.3 609.7H723.5V623.1H710.3zM874.7 609.7H887.9V623.1H874.7zM900.0 609.7H913.2V623.1H900.0zM925.3 609.7H963.9V623.1H925.3zM1077.1 609.7H1103.0V623.1H1077.1zM495.2 622.5H521.1V635.9H495.2zM647.0 622.5H660.2V635.9H647.0zM685.0 622.5H710.9V635.9H685.0zM925.3 622.5H938.5V635.9H925.3zM975.9 622.5H989.1V635.9H975.9zM1039.2 622.5H1052.4V635.9H1039.2zM1102.4 622.5H1142.0V635.9H1102.4zM634.4 635.3H647.6V648.7H634.4zM887.4 635.3H900.6V648.7H887.4zM950.6 635.3H963.9V648.7H950.6zM975.9 635.3H989.1V648.7H975.9zM1115.0 635.3H1142.0V648.7H1115.0zM507.9 648.1H533.8V661.5H507.9zM621.7 648.1H634.9V661.5H621.7zM659.7 648.1H672.9V661.5H659.7zM912.7 648.1H951.2V661.5H912.7zM1026.5 648.1H1039.8V661.5H1026.5zM1115.0 648.1H1142.0V661.5H1115.0zM507.9 660.9H521.1V674.3H507.9zM710.3 660.9H723.5V674.3H710.3zM874.7 660.9H887.9V674.3H874.7zM912.7 660.9H938.5V674.3H912.7zM1051.8 660.9H1065.0V674.3H1051.8zM1115.0 660.9H1142.0V674.3H1115.0zM596.4 673.7H609.6V687.1H596.4zM710.3 673.7H723.5V687.1H710.3zM950.6 673.7H963.9V687.1H950.6zM1051.8 673.7H1065.0V687.1H1051.8zM1115.0 673.7H1142.0V687.1H1115.0zM520.5 686.5H533.8V699.9H520.5zM545.8 686.5H559.0V699.9H545.8zM596.4 686.5H609.6V699.9H596.4zM647.0 686.5H672.9V699.9H647.0zM760.9 686.5H786.8V699.9H760.9zM874.7 686.5H887.9V699.9H874.7zM912.7 686.5H925.9V699.9H912.7zM1051.8 686.5H1065.0V699.9H1051.8zM1115.0 686.5H1142.0V699.9H1115.0zM545.8 699.3H559.0V712.7H545.8zM596.4 699.3H609.6V712.7H596.4zM672.3 699.3H685.5V712.7H672.3zM760.9 699.3H774.1V712.7H760.9zM836.8 699.3H850.0V712.7H836.8zM874.7 699.3H887.9V712.7H874.7zM1051.8 699.3H1065.0V712.7H1051.8zM1115.0 699.3H1142.0V712.7H1115.0zM583.8 712.1H609.6V725.5H583.8zM824.1 712.1H837.4V725.5H824.1zM1051.8 712.1H1065.0V725.5H1051.8zM1115.0 712.1H1142.0V725.5H1115.0zM748.2 724.9H774.1V738.3H748.2zM824.1 724.9H837.4V738.3H824.1zM1051.8 724.9H1065.0V738.3H1051.8zM1115.0 724.9H1142.0V738.3H1115.0zM647.0 737.7H660.2V751.1H647.0zM786.2 737.7H799.4V751.1H786.2zM1051.8 737.7H1065.0V751.1H1051.8zM1115.0 737.7H1142.0V751.1H1115.0zM558.5 750.5H571.7V763.9H558.5zM621.7 750.5H647.6V763.9H621.7zM1051.8 750.5H1065.0V763.9H1051.8zM1115.0 750.5H1142.0V763.9H1115.0zM621.7 763.3H634.9V776.7H621.7zM1051.8 763.3H1065.0V776.7H1051.8zM1115.0 763.3H1142.0V776.7H1115.0zM1051.8 776.1H1065.0V789.5H1051.8zM1115.0 776.1H1142.0V789.5H1115.0zM520.5 788.9H546.4V816.0H520.5zM1051.8 788.9H1065.0V816.0H1051.8zM1115.0 788.9H1142.0V816.0H1115.0z"/><path fill="#008878" d="M267.5 20.0H293.4V47.1H267.5zM330.8 20.0H369.3V47.1H330.8zM444.6 20.0H457.9V47.1H444.6zM469.9 20.0H495.8V47.1H469.9zM533.2 20.0H559.0V47.1H533.2zM571.1 20.0H597.0V47.1H571.1zM722.9 20.0H748.8V47.1H722.9zM925.3 20.0H951.2V47.1H925.3zM343.4 46.5H369.3V59.9H343.4zM444.6 46.5H457.9V59.9H444.6zM482.6 46.5H508.5V59.9H482.6zM735.6 46.5H748.8V59.9H735.6zM356.1 59.3H394.6V72.7H356.1zM419.3 59.3H432.6V72.7H419.3zM444.6 59.3H457.9V72.7H444.6zM482.6 59.3H495.8V72.7H482.6zM609.1 59.3H634.9V72.7H609.1zM406.6 72.1H432.6V85.5H406.6zM444.6 72.1H457.9V85.5H444.6zM520.5 72.1H559.0V85.5H520.5zM583.8 72.1H597.0V85.5H583.8zM609.1 72.1H622.3V85.5H609.1zM444.6 84.9H457.9V98.3H444.6zM520.5 84.9H533.8V98.3H520.5zM697.6 84.9H710.9V98.3H697.6zM722.9 84.9H736.1V98.3H722.9zM482.6 97.7H508.5V111.1H482.6zM545.8 97.7H559.0V111.1H545.8zM697.6 97.7H710.9V111.1H697.6zM748.2 97.7H761.4V111.1H748.2zM912.7 97.7H925.9V111.1H912.7zM571.1 110.5H584.3V123.9H571.1zM760.9 110.5H774.1V123.9H760.9zM457.2 123.3H470.5V136.7H457.2zM507.9 123.3H521.1V136.7H507.9zM571.1 123.3H597.0V136.7H571.1zM621.7 123.3H634.9V136.7H621.7zM482.6 136.1H521.1V149.5H482.6zM533.2 136.1H546.4V149.5H533.2zM609.1 136.1H622.3V149.5H609.1zM634.4 136.1H647.6V149.5H634.4zM824.1 136.1H837.4V149.5H824.1zM887.4 136.1H900.6V149.5H887.4zM545.8 148.9H559.0V162.3H545.8zM571.1 148.9H597.0V162.3H571.1zM609.1 148.9H647.6V162.3H609.1zM659.7 148.9H685.5V162.3H659.7zM874.7 148.9H900.6V162.3H874.7zM1064.5 148.9H1090.4V162.3H1064.5zM1102.4 148.9H1142.0V162.3H1102.4zM545.8 161.7H559.0V175.1H545.8zM596.4 161.7H609.6V175.1H596.4zM710.3 161.7H723.5V175.1H710.3zM836.8 161.7H862.6V175.1H836.8zM1089.8 161.7H1103.0V175.1H1089.8zM1115.0 161.7H1142.0V175.1H1115.0zM545.8 174.5H571.7V187.9H545.8zM672.3 174.5H685.5V187.9H672.3zM1102.4 174.5H1142.0V187.9H1102.4zM545.8 187.3H571.7V200.7H545.8zM596.4 187.3H609.6V200.7H596.4zM710.3 187.3H748.8V200.7H710.3zM862.1 187.3H875.3V200.7H862.1zM1051.8 187.3H1065.0V200.7H1051.8zM1077.1 187.3H1090.4V200.7H1077.1zM558.5 200.1H571.7V213.5H558.5zM596.4 200.1H609.6V213.5H596.4zM685.0 200.1H748.8V213.5H685.0zM760.9 200.1H774.1V213.5H760.9zM887.4 200.1H900.6V213.5H887.4zM912.7 200.1H938.5V213.5H912.7zM1077.1 200.1H1090.4V213.5H1077.1zM596.4 212.9H609.6V226.3H596.4zM647.0 212.9H660.2V226.3H647.0zM710.3 212.9H723.5V226.3H710.3zM760.9 212.9H774.1V226.3H760.9zM1077.1 212.9H1090.4V226.3H1077.1zM571.1 225.7H584.3V239.1H571.1zM596.4 225.7H609.6V239.1H596.4zM634.4 225.7H647.6V239.1H634.4zM697.6 225.7H710.9V239.1H697.6zM735.6 225.7H748.8V239.1H735.6zM938.0 225.7H951.2V239.1H938.0zM634.4 238.5H647.6V251.9H634.4zM672.3 238.5H698.2V251.9H672.3zM950.6 238.5H963.9V251.9H950.6zM558.5 251.3H571.7V264.7H558.5zM685.0 251.3H710.9V264.7H685.0zM1115.0 264.1H1142.0V277.5H1115.0zM1039.2 276.9H1052.4V290.3H1039.2zM1089.8 276.9H1142.0V290.3H1089.8zM722.9 289.7H748.8V303.1H722.9zM1026.5 289.7H1052.4V303.1H1026.5zM1077.1 289.7H1090.4V303.1H1077.1zM1102.4 289.7H1115.6V303.1H1102.4zM1039.2 302.5H1052.4V315.9H1039.2zM1077.1 302.5H1103.0V315.9H1077.1zM102.0 315.3H129.0V328.7H102.0zM1026.5 315.3H1039.8V328.7H1026.5zM1064.5 315.3H1077.7V328.7H1064.5zM647.0 328.1H660.2V341.5H647.0zM1077.1 328.1H1090.4V341.5H1077.1zM128.3 340.9H166.9V354.3H128.3zM583.8 340.9H597.0V354.3H583.8zM1026.5 340.9H1039.8V354.3H1026.5zM1077.1 340.9H1103.0V354.3H1077.1zM153.6 353.7H166.9V367.1H153.6zM583.8 353.7H609.6V367.1H583.8zM1026.5 353.7H1039.8V367.1H1026.5zM1064.5 353.7H1077.7V367.1H1064.5zM1102.4 353.7H1115.6V367.1H1102.4zM571.1 366.5H597.0V379.9H571.1zM1013.9 366.5H1027.1V379.9H1013.9zM1051.8 366.5H1065.0V379.9H1051.8zM1077.1 366.5H1090.4V379.9H1077.1zM1115.0 366.5H1142.0V379.9H1115.0zM571.1 379.3H597.0V392.7H571.1zM621.7 379.3H634.9V392.7H621.7zM963.3 379.3H976.5V392.7H963.3zM1001.2 379.3H1014.4V392.7H1001.2zM1039.2 379.3H1052.4V392.7H1039.2zM1115.0 379.3H1142.0V392.7H1115.0zM178.9 392.1H204.9V405.5H178.9zM419.3 392.1H432.6V405.5H419.3zM583.8 392.1H597.0V405.5H583.8zM1077.1 392.1H1090.4V405.5H1077.1zM431.9 404.9H445.2V418.3H431.9zM482.6 404.9H495.8V418.3H482.6zM583.8 404.9H597.0V418.3H583.8zM444.6 417.7H470.5V431.1H444.6zM1115.0 417.7H1142.0V431.1H1115.0zM482.6 430.5H495.8V443.9H482.6zM507.9 430.5H521.1V443.9H507.9zM596.4 430.5H609.6V443.9H596.4zM469.9 443.3H483.2V456.7H469.9zM495.2 443.3H508.5V456.7H495.2zM1013.9 443.3H1027.1V456.7H1013.9zM1089.8 443.3H1103.0V456.7H1089.8zM507.9 456.1H533.8V469.5H507.9zM647.0 456.1H660.2V469.5H647.0zM1001.2 456.1H1014.4V469.5H1001.2zM1077.1 456.1H1090.4V469.5H1077.1zM495.2 468.9H533.8V482.3H495.2zM975.9 468.9H1014.4V482.3H975.9zM1039.2 468.9H1052.4V482.3H1039.2zM1064.5 468.9H1077.7V482.3H1064.5zM520.5 481.7H533.8V495.1H520.5zM975.9 481.7H989.1V495.1H975.9zM1039.2 481.7H1052.4V495.1H1039.2zM507.9 494.5H521.1V507.9H507.9zM798.8 494.5H812.0V507.9H798.8zM900.0 494.5H913.2V507.9H900.0zM1051.8 494.5H1065.0V507.9H1051.8zM507.9 507.3H521.1V520.7H507.9zM786.2 507.3H799.4V520.7H786.2zM1051.8 507.3H1065.0V520.7H1051.8zM507.9 520.1H521.1V533.5H507.9zM1026.5 520.1H1052.4V533.5H1026.5zM1013.9 532.9H1052.4V546.3H1013.9zM887.4 545.7H900.6V559.1H887.4zM925.3 545.7H951.2V559.1H925.3zM1026.5 545.7H1065.0V559.1H1026.5zM697.6 558.5H710.9V571.9H697.6zM722.9 558.5H748.8V571.9H722.9zM1026.5 558.5H1039.8V571.9H1026.5zM685.0 571.3H698.2V584.7H685.0zM710.3 571.3H723.5V584.7H710.3zM735.6 571.3H761.4V584.7H735.6zM836.8 571.3H850.0V584.7H836.8zM938.0 571.3H963.9V584.7H938.0zM659.7 584.1H672.9V597.5H659.7zM697.6 584.1H723.5V597.5H697.6zM849.4 584.1H875.3V597.5H849.4zM938.0 584.1H951.2V597.5H938.0zM1013.9 584.1H1027.1V597.5H1013.9zM659.7 596.9H672.9V610.3H659.7zM685.0 596.9H736.1V610.3H685.0zM849.4 596.9H875.3V610.3H849.4zM925.3 596.9H1001.8V610.3H925.3zM1013.9 596.9H1039.8V610.3H1013.9zM1115.0 596.9H1142.0V610.3H1115.0zM507.9 609.7H521.1V623.1H507.9zM659.7 609.7H672.9V623.1H659.7zM685.0 609.7H698.2V623.1H685.0zM722.9 609.7H736.1V623.1H722.9zM862.1 609.7H875.3V623.1H862.1zM963.3 609.7H976.5V623.1H963.3zM1102.4 609.7H1115.6V623.1H1102.4zM672.3 622.5H685.5V635.9H672.3zM710.3 622.5H736.1V635.9H710.3zM849.4 622.5H887.9V635.9H849.4zM900.0 622.5H925.9V635.9H900.0zM963.3 622.5H976.5V635.9H963.3zM1051.8 622.5H1065.0V635.9H1051.8zM1089.8 622.5H1103.0V635.9H1089.8zM647.0 635.3H660.2V648.7H647.0zM685.0 635.3H736.1V648.7H685.0zM836.8 635.3H887.9V648.7H836.8zM900.0 635.3H925.9V648.7H900.0zM1077.1 635.3H1090.4V648.7H1077.1zM634.4 648.1H660.2V661.5H634.4zM672.3 648.1H685.5V661.5H672.3zM862.1 648.1H887.9V661.5H862.1zM963.3 648.1H976.5V661.5H963.3zM1039.2 648.1H1052.4V661.5H1039.2zM520.5 660.9H546.4V674.3H520.5zM621.7 660.9H660.2V674.3H621.7zM685.0 660.9H698.2V674.3H685.0zM760.9 660.9H786.8V674.3H760.9zM938.0 660.9H951.2V674.3H938.0zM975.9 660.9H989.1V674.3H975.9zM1039.2 660.9H1052.4V674.3H1039.2zM520.5 673.7H559.0V687.1H520.5zM609.1 673.7H660.2V687.1H609.1zM685.0 673.7H710.9V687.1H685.0zM760.9 673.7H799.4V687.1H760.9zM1039.2 673.7H1052.4V687.1H1039.2zM609.1 686.5H634.9V699.9H609.1zM672.3 686.5H698.2V699.9H672.3zM786.2 686.5H812.0V699.9H786.2zM849.4 686.5H862.6V699.9H849.4zM1039.2 686.5H1052.4V699.9H1039.2zM583.8 699.3H597.0V712.7H583.8zM659.7 699.3H672.9V712.7H659.7zM685.0 699.3H698.2V712.7H685.0zM773.5 699.3H812.0V712.7H773.5zM887.4 699.3H900.6V712.7H887.4zM1039.2 699.3H1052.4V712.7H1039.2zM545.8 712.1H559.0V725.5H545.8zM685.0 712.1H698.2V725.5H685.0zM748.2 712.1H824.7V725.5H748.2zM874.7 712.1H887.9V725.5H874.7zM1039.2 712.1H1052.4V725.5H1039.2zM672.3 724.9H685.5V738.3H672.3zM735.6 724.9H748.8V738.3H735.6zM773.5 724.9H824.7V738.3H773.5zM874.7 724.9H887.9V738.3H874.7zM1039.2 724.9H1052.4V738.3H1039.2zM659.7 737.7H672.9V751.1H659.7zM735.6 737.7H748.8V751.1H735.6zM874.7 737.7H887.9V751.1H874.7zM1039.2 737.7H1052.4V751.1H1039.2zM545.8 750.5H559.0V763.9H545.8zM647.0 750.5H672.9V763.9H647.0zM735.6 750.5H748.8V763.9H735.6zM874.7 750.5H887.9V763.9H874.7zM1039.2 750.5H1052.4V763.9H1039.2zM609.1 763.3H622.3V776.7H609.1zM634.4 763.3H660.2V776.7H634.4zM735.6 763.3H748.8V776.7H735.6zM874.7 763.3H887.9V776.7H874.7zM1039.2 763.3H1052.4V776.7H1039.2zM457.2 776.1H470.5V789.5H457.2zM507.9 776.1H546.4V789.5H507.9zM722.9 776.1H736.1V789.5H722.9zM874.7 776.1H887.9V789.5H874.7zM1039.2 776.1H1052.4V789.5H1039.2zM457.2 788.9H470.5V816.0H457.2zM507.9 788.9H521.1V816.0H507.9zM558.5 788.9H597.0V816.0H558.5zM874.7 788.9H887.9V816.0H874.7zM1039.2 788.9H1052.4V816.0H1039.2z"/><path fill="#1008f8" d="M292.8 20.0H306.1V47.1H292.8zM318.1 20.0H331.4V47.1H318.1zM368.7 20.0H382.0V47.1H368.7zM394.0 20.0H407.2V47.1H394.0zM419.3 20.0H432.6V47.1H419.3zM596.4 20.0H609.6V47.1H596.4zM621.7 20.0H634.9V47.1H621.7zM685.0 20.0H698.2V47.1H685.0zM786.2 20.0H799.4V47.1H786.2zM811.5 20.0H824.7V47.1H811.5zM836.8 20.0H850.0V47.1H836.8zM368.7 46.5H394.6V59.9H368.7zM406.6 46.5H432.6V59.9H406.6zM507.9 46.5H521.1V59.9H507.9zM672.3 46.5H685.5V59.9H672.3zM722.9 46.5H736.1V59.9H722.9zM900.0 46.5H913.2V59.9H900.0zM1013.9 46.5H1027.1V59.9H1013.9zM394.0 59.3H419.9V72.7H394.0zM507.9 59.3H521.1V72.7H507.9zM558.5 59.3H597.0V72.7H558.5zM672.3 59.3H685.5V72.7H672.3zM722.9 59.3H736.1V72.7H722.9zM1001.2 59.3H1014.4V72.7H1001.2zM1026.5 59.3H1039.8V72.7H1026.5zM457.2 72.1H470.5V85.5H457.2zM507.9 72.1H521.1V85.5H507.9zM659.7 72.1H672.9V85.5H659.7zM685.0 72.1H710.9V85.5H685.0zM722.9 72.1H736.1V85.5H722.9zM950.6 72.1H976.5V85.5H950.6zM1001.2 72.1H1027.1V85.5H1001.2zM495.2 84.9H521.1V98.3H495.2zM634.4 84.9H647.6V98.3H634.4zM469.9 97.7H483.2V111.1H469.9zM596.4 97.7H622.3V111.1H596.4zM685.0 97.7H698.2V111.1H685.0zM722.9 97.7H748.8V111.1H722.9zM811.5 97.7H824.7V111.1H811.5zM925.3 97.7H938.5V111.1H925.3zM457.2 110.5H470.5V123.9H457.2zM596.4 110.5H634.9V123.9H596.4zM748.2 110.5H761.4V123.9H748.2zM786.2 110.5H824.7V123.9H786.2zM963.3 110.5H976.5V123.9H963.3zM469.9 123.3H483.2V136.7H469.9zM495.2 123.3H508.5V136.7H495.2zM596.4 123.3H622.3V136.7H596.4zM634.4 123.3H647.6V136.7H634.4zM811.5 123.3H824.7V136.7H811.5zM862.1 123.3H887.9V136.7H862.1zM1115.0 123.3H1142.0V136.7H1115.0zM457.2 136.1H483.2V149.5H457.2zM647.0 136.1H698.2V149.5H647.0zM786.2 136.1H824.7V149.5H786.2zM874.7 136.1H887.9V149.5H874.7zM1064.5 136.1H1077.7V149.5H1064.5zM1102.4 136.1H1115.6V149.5H1102.4zM685.0 148.9H761.4V162.3H685.0zM786.2 148.9H812.0V162.3H786.2zM824.1 148.9H850.0V162.3H824.1zM1013.9 148.9H1039.8V162.3H1013.9zM1051.8 148.9H1065.0V162.3H1051.8zM507.9 161.7H521.1V175.1H507.9zM583.8 161.7H597.0V175.1H583.8zM609.1 161.7H622.3V175.1H609.1zM697.6 161.7H710.9V175.1H697.6zM824.1 161.7H837.4V175.1H824.1zM874.7 161.7H887.9V175.1H874.7zM950.6 161.7H976.5V175.1H950.6zM1026.5 161.7H1039.8V175.1H1026.5zM457.2 174.5H470.5V187.9H457.2zM507.9 174.5H521.1V187.9H507.9zM583.8 174.5H597.0V187.9H583.8zM634.4 174.5H647.6V187.9H634.4zM659.7 174.5H672.9V187.9H659.7zM685.0 174.5H723.5V187.9H685.0zM583.8 187.3H597.0V200.7H583.8zM634.4 187.3H660.2V200.7H634.4zM685.0 187.3H710.9V200.7H685.0zM748.2 187.3H774.1V200.7H748.2zM887.4 187.3H900.6V200.7H887.4zM1115.0 187.3H1142.0V200.7H1115.0zM571.1 200.1H597.0V213.5H571.1zM634.4 200.1H685.5V213.5H634.4zM1115.0 200.1H1142.0V213.5H1115.0zM204.2 212.9H217.5V226.3H204.2zM406.6 212.9H419.9V226.3H406.6zM609.1 212.9H647.6V226.3H609.1zM672.3 212.9H710.9V226.3H672.3zM722.9 212.9H761.4V226.3H722.9zM1115.0 212.9H1142.0V226.3H1115.0zM267.5 225.7H280.8V239.1H267.5zM609.1 225.7H634.9V239.1H609.1zM659.7 225.7H672.9V239.1H659.7zM685.0 225.7H698.2V239.1H685.0zM710.3 225.7H736.1V239.1H710.3zM1115.0 225.7H1142.0V239.1H1115.0zM280.2 238.5H293.4V251.9H280.2zM621.7 238.5H634.9V251.9H621.7zM963.3 238.5H976.5V251.9H963.3zM1102.4 238.5H1142.0V251.9H1102.4zM1115.0 251.3H1142.0V264.7H1115.0zM583.8 264.1H597.0V277.5H583.8zM583.8 276.9H597.0V290.3H583.8zM1077.1 276.9H1090.4V290.3H1077.1zM1051.8 302.5H1065.0V315.9H1051.8zM128.3 315.3H141.6V328.7H128.3zM609.1 315.3H622.3V328.7H609.1zM102.0 328.1H141.6V341.5H102.0zM596.4 328.1H609.6V341.5H596.4zM1039.2 328.1H1077.7V341.5H1039.2zM406.6 340.9H419.9V354.3H406.6zM596.4 340.9H609.6V354.3H596.4zM1039.2 340.9H1052.4V354.3H1039.2zM1064.5 340.9H1077.7V354.3H1064.5zM406.6 353.7H432.6V367.1H406.6zM609.1 353.7H622.3V367.1H609.1zM1039.2 353.7H1065.0V367.1H1039.2zM1089.8 353.7H1103.0V367.1H1089.8zM406.6 366.5H419.9V379.9H406.6zM596.4 366.5H609.6V379.9H596.4zM621.7 366.5H634.9V379.9H621.7zM1026.5 366.5H1052.4V379.9H1026.5zM1089.8 366.5H1115.6V379.9H1089.8zM596.4 379.3H609.6V392.7H596.4zM1013.9 379.3H1039.8V392.7H1013.9zM1102.4 379.3H1115.6V392.7H1102.4zM571.1 392.1H584.3V405.5H571.1zM1089.8 392.1H1103.0V405.5H1089.8zM571.1 404.9H584.3V418.3H571.1zM975.9 404.9H989.1V418.3H975.9zM1077.1 404.9H1090.4V418.3H1077.1zM507.9 417.7H521.1V431.1H507.9zM583.8 417.7H622.3V431.1H583.8zM583.8 430.5H597.0V443.9H583.8zM609.1 430.5H647.6V443.9H609.1zM1102.4 430.5H1142.0V443.9H1102.4zM507.9 443.3H533.8V456.7H507.9zM1001.2 443.3H1014.4V456.7H1001.2zM533.2 456.1H546.4V469.5H533.2zM697.6 456.1H710.9V469.5H697.6zM874.7 456.1H887.9V469.5H874.7zM1013.9 468.9H1027.1V482.3H1013.9zM1001.2 481.7H1014.4V495.1H1001.2zM482.6 494.5H508.5V507.9H482.6zM520.5 494.5H533.8V507.9H520.5zM786.2 494.5H799.4V507.9H786.2zM912.7 494.5H938.5V507.9H912.7zM1001.2 494.5H1027.1V507.9H1001.2zM900.0 507.3H925.9V520.7H900.0zM1001.2 507.3H1027.1V520.7H1001.2zM1039.2 507.3H1052.4V520.7H1039.2zM482.6 520.1H508.5V533.5H482.6zM900.0 520.1H925.9V533.5H900.0zM1001.2 520.1H1014.4V533.5H1001.2zM900.0 532.9H925.9V546.3H900.0zM710.3 558.5H723.5V571.9H710.3zM748.2 558.5H774.1V571.9H748.2zM950.6 558.5H963.9V571.9H950.6zM988.6 558.5H1001.8V571.9H988.6zM697.6 571.3H710.9V584.7H697.6zM722.9 571.3H736.1V584.7H722.9zM862.1 571.3H875.3V584.7H862.1zM735.6 584.1H748.8V597.5H735.6zM836.8 584.1H850.0V597.5H836.8zM950.6 584.1H976.5V597.5H950.6zM735.6 596.9H748.8V610.3H735.6zM672.3 609.7H685.5V623.1H672.3zM849.4 609.7H862.6V623.1H849.4zM1115.0 609.7H1142.0V623.1H1115.0zM659.7 622.5H672.9V635.9H659.7zM836.8 622.5H850.0V635.9H836.8zM659.7 635.3H685.5V648.7H659.7zM735.6 635.3H748.8V648.7H735.6zM824.1 635.3H837.4V648.7H824.1zM963.3 635.3H976.5V648.7H963.3zM1051.8 635.3H1065.0V648.7H1051.8zM685.0 648.1H723.5V661.5H685.0zM824.1 648.1H850.0V661.5H824.1zM950.6 648.1H963.9V661.5H950.6zM975.9 648.1H989.1V661.5H975.9zM1051.8 648.1H1065.0V661.5H1051.8zM697.6 660.9H710.9V674.3H697.6zM748.2 660.9H761.4V674.3H748.2zM824.1 660.9H837.4V674.3H824.1zM950.6 660.9H976.5V674.3H950.6zM748.2 673.7H761.4V687.1H748.2zM697.6 686.5H723.5V699.9H697.6zM748.2 686.5H761.4V699.9H748.2zM748.2 699.3H761.4V712.7H748.2zM900.0 699.3H925.9V712.7H900.0zM900.0 712.1H925.9V725.5H900.0zM685.0 724.9H698.2V738.3H685.0zM900.0 724.9H925.9V738.3H900.0zM672.3 737.7H698.2V751.1H672.3zM900.0 737.7H925.9V751.1H900.0zM609.1 750.5H622.3V763.9H609.1zM710.3 750.5H723.5V763.9H710.3zM900.0 750.5H925.9V763.9H900.0zM659.7 763.3H672.9V776.7H659.7zM710.3 763.3H736.1V776.7H710.3zM900.0 763.3H925.9V776.7H900.0zM634.4 776.1H660.2V789.5H634.4zM900.0 776.1H925.9V789.5H900.0zM634.4 788.9H660.2V816.0H634.4zM900.0 788.9H925.9V816.0H900.0z"/><path fill="#4c30ff" d="M305.4 20.0H318.7V47.1H305.4zM381.4 20.0H394.6V47.1H381.4zM406.6 20.0H419.9V47.1H406.6zM431.9 20.0H445.2V47.1H431.9zM457.2 20.0H470.5V47.1H457.2zM609.1 20.0H622.3V47.1H609.1zM659.7 20.0H685.5V47.1H659.7zM760.9 20.0H786.8V47.1H760.9zM798.8 20.0H812.0V47.1H798.8zM874.7 20.0H887.9V47.1H874.7zM900.0 20.0H925.9V47.1H900.0zM394.0 46.5H407.2V59.9H394.0zM520.5 46.5H546.4V59.9H520.5zM558.5 46.5H597.0V59.9H558.5zM621.7 46.5H634.9V59.9H621.7zM659.7 46.5H672.9V59.9H659.7zM798.8 46.5H824.7V59.9H798.8zM925.3 46.5H938.5V59.9H925.3zM988.6 46.5H1001.8V59.9H988.6zM520.5 59.3H533.8V72.7H520.5zM659.7 59.3H672.9V72.7H659.7zM862.1 59.3H875.3V72.7H862.1zM912.7 59.3H925.9V72.7H912.7zM938.0 59.3H951.2V72.7H938.0zM963.3 59.3H1001.8V72.7H963.3zM596.4 72.1H609.6V85.5H596.4zM672.3 72.1H685.5V85.5H672.3zM811.5 72.1H824.7V85.5H811.5zM849.4 72.1H875.3V85.5H849.4zM925.3 72.1H951.2V85.5H925.3zM1039.2 72.1H1052.4V85.5H1039.2zM457.2 84.9H495.8V98.3H457.2zM583.8 84.9H597.0V98.3H583.8zM647.0 84.9H660.2V98.3H647.0zM672.3 84.9H698.2V98.3H672.3zM710.3 84.9H723.5V98.3H710.3zM811.5 84.9H824.7V98.3H811.5zM849.4 84.9H875.3V98.3H849.4zM900.0 84.9H913.2V98.3H900.0zM925.3 84.9H963.9V98.3H925.3zM1001.2 84.9H1027.1V98.3H1001.2zM533.2 97.7H546.4V111.1H533.2zM583.8 97.7H597.0V111.1H583.8zM659.7 97.7H685.5V111.1H659.7zM824.1 97.7H875.3V111.1H824.1zM950.6 97.7H976.5V111.1H950.6zM495.2 110.5H508.5V123.9H495.2zM583.8 110.5H597.0V123.9H583.8zM697.6 110.5H723.5V123.9H697.6zM773.5 110.5H786.8V123.9H773.5zM824.1 110.5H850.0V123.9H824.1zM938.0 110.5H963.9V123.9H938.0zM1115.0 110.5H1142.0V123.9H1115.0zM406.6 123.3H419.9V136.7H406.6zM482.6 123.3H495.8V136.7H482.6zM520.5 123.3H546.4V136.7H520.5zM647.0 123.3H660.2V136.7H647.0zM735.6 123.3H761.4V136.7H735.6zM786.2 123.3H799.4V136.7H786.2zM824.1 123.3H850.0V136.7H824.1zM950.6 123.3H976.5V136.7H950.6zM988.6 123.3H1001.8V136.7H988.6zM1089.8 123.3H1115.6V136.7H1089.8zM431.9 136.1H445.2V149.5H431.9zM583.8 136.1H609.6V149.5H583.8zM697.6 136.1H710.9V149.5H697.6zM773.5 136.1H786.8V149.5H773.5zM862.1 136.1H875.3V149.5H862.1zM900.0 136.1H963.9V149.5H900.0zM1001.2 136.1H1027.1V149.5H1001.2zM431.9 148.9H457.9V162.3H431.9zM520.5 148.9H546.4V162.3H520.5zM773.5 148.9H786.8V162.3H773.5zM849.4 148.9H875.3V162.3H849.4zM900.0 148.9H989.1V162.3H900.0zM457.2 161.7H470.5V175.1H457.2zM520.5 161.7H546.4V175.1H520.5zM558.5 161.7H584.3V175.1H558.5zM647.0 161.7H660.2V175.1H647.0zM722.9 161.7H774.1V175.1H722.9zM887.4 161.7H951.2V175.1H887.4zM596.4 174.5H622.3V187.9H596.4zM647.0 174.5H660.2V187.9H647.0zM722.9 174.5H774.1V187.9H722.9zM925.3 174.5H951.2V187.9H925.3zM571.1 187.3H584.3V200.7H571.1zM609.1 187.3H634.9V200.7H609.1zM659.7 187.3H685.5V200.7H659.7zM773.5 187.3H786.8V200.7H773.5zM900.0 187.3H913.2V200.7H900.0zM950.6 187.3H963.9V200.7H950.6zM1064.5 187.3H1077.7V200.7H1064.5zM178.9 200.1H192.2V213.5H178.9zM621.7 200.1H634.9V213.5H621.7zM950.6 200.1H963.9V213.5H950.6zM1102.4 200.1H1115.6V213.5H1102.4zM254.8 212.9H280.8V226.3H254.8zM773.5 212.9H786.8V226.3H773.5zM1089.8 212.9H1115.6V226.3H1089.8zM166.3 225.7H179.6V239.1H166.3zM975.9 225.7H1001.8V239.1H975.9zM1077.1 225.7H1115.6V239.1H1077.1zM166.3 238.5H179.6V251.9H166.3zM229.6 238.5H242.8V251.9H229.6zM975.9 238.5H989.1V251.9H975.9zM1051.8 238.5H1065.0V251.9H1051.8zM1089.8 238.5H1103.0V251.9H1089.8zM545.8 251.3H559.0V264.7H545.8zM1089.8 251.3H1103.0V264.7H1089.8zM1051.8 264.1H1065.0V277.5H1051.8zM1077.1 264.1H1103.0V277.5H1077.1zM507.9 276.9H521.1V290.3H507.9zM735.6 276.9H761.4V290.3H735.6zM798.8 276.9H812.0V290.3H798.8zM1064.5 276.9H1077.7V290.3H1064.5zM229.6 289.7H255.5V303.1H229.6zM583.8 289.7H597.0V303.1H583.8zM748.2 289.7H761.4V303.1H748.2zM1051.8 289.7H1077.7V303.1H1051.8zM735.6 302.5H748.8V315.9H735.6zM1026.5 302.5H1039.8V315.9H1026.5zM596.4 315.3H609.6V328.7H596.4zM647.0 315.3H660.2V328.7H647.0zM760.9 315.3H774.1V328.7H760.9zM609.1 328.1H622.3V341.5H609.1zM659.7 328.1H672.9V341.5H659.7zM786.2 328.1H799.4V341.5H786.2zM394.0 340.9H407.2V354.3H394.0zM419.3 340.9H432.6V354.3H419.3zM558.5 340.9H571.7V354.3H558.5zM609.1 340.9H622.3V354.3H609.1zM634.4 340.9H660.2V354.3H634.4zM1051.8 340.9H1065.0V354.3H1051.8zM482.6 353.7H495.8V367.1H482.6zM545.8 353.7H559.0V367.1H545.8zM621.7 353.7H647.6V367.1H621.7zM419.3 366.5H445.2V379.9H419.3zM558.5 366.5H571.7V379.9H558.5zM609.1 366.5H622.3V379.9H609.1zM634.4 366.5H647.6V379.9H634.4zM406.6 379.3H419.9V392.7H406.6zM558.5 379.3H571.7V392.7H558.5zM634.4 379.3H647.6V392.7H634.4zM760.9 379.3H774.1V392.7H760.9zM1077.1 379.3H1103.0V392.7H1077.1zM431.9 392.1H445.2V405.5H431.9zM482.6 392.1H495.8V405.5H482.6zM710.3 392.1H723.5V405.5H710.3zM760.9 392.1H774.1V405.5H760.9zM1115.0 392.1H1142.0V405.5H1115.0zM495.2 404.9H508.5V418.3H495.2zM558.5 404.9H571.7V418.3H558.5zM1102.4 404.9H1115.6V418.3H1102.4zM469.9 417.7H483.2V431.1H469.9zM533.2 417.7H584.3V431.1H533.2zM621.7 417.7H647.6V431.1H621.7zM722.9 417.7H736.1V431.1H722.9zM975.9 417.7H989.1V431.1H975.9zM1077.1 417.7H1090.4V431.1H1077.1zM1102.4 417.7H1115.6V431.1H1102.4zM457.2 430.5H483.2V443.9H457.2zM520.5 430.5H533.8V443.9H520.5zM558.5 430.5H584.3V443.9H558.5zM647.0 430.5H660.2V443.9H647.0zM722.9 430.5H736.1V443.9H722.9zM1089.8 430.5H1103.0V443.9H1089.8zM457.2 443.3H470.5V456.7H457.2zM558.5 443.3H571.7V456.7H558.5zM647.0 443.3H660.2V456.7H647.0zM1077.1 443.3H1090.4V456.7H1077.1zM545.8 456.1H559.0V469.5H545.8zM659.7 456.1H698.2V469.5H659.7zM988.6 456.1H1001.8V469.5H988.6zM545.8 468.9H559.0V482.3H545.8zM1026.5 468.9H1039.8V482.3H1026.5zM482.6 481.7H495.8V495.1H482.6zM533.2 481.7H559.0V495.1H533.2zM1026.5 481.7H1039.8V495.1H1026.5zM938.0 494.5H951.2V507.9H938.0zM963.3 494.5H1001.8V507.9H963.3zM1026.5 494.5H1052.4V507.9H1026.5zM141.0 507.3H154.2V520.7H141.0zM482.6 507.3H508.5V520.7H482.6zM925.3 507.3H938.5V520.7H925.3zM963.3 507.3H1001.8V520.7H963.3zM1026.5 507.3H1039.8V520.7H1026.5zM975.9 520.1H1001.8V533.5H975.9zM1013.9 520.1H1027.1V533.5H1013.9zM102.0 532.9H129.0V546.3H102.0zM950.6 532.9H963.9V546.3H950.6zM975.9 532.9H989.1V546.3H975.9zM1001.2 532.9H1014.4V546.3H1001.2zM874.7 545.7H887.9V559.1H874.7zM950.6 545.7H989.1V559.1H950.6zM1001.2 545.7H1014.4V559.1H1001.2zM773.5 558.5H786.8V571.9H773.5zM824.1 558.5H837.4V571.9H824.1zM874.7 558.5H887.9V571.9H874.7zM963.3 558.5H989.1V571.9H963.3zM1001.2 558.5H1014.4V571.9H1001.2zM824.1 571.3H837.4V584.7H824.1zM963.3 571.3H976.5V584.7H963.3zM988.6 571.3H1014.4V584.7H988.6zM748.2 584.1H761.4V597.5H748.2zM975.9 584.1H1014.4V597.5H975.9zM748.2 596.9H761.4V610.3H748.2zM836.8 596.9H850.0V610.3H836.8zM735.6 609.7H748.8V623.1H735.6zM773.5 609.7H799.4V623.1H773.5zM824.1 609.7H850.0V623.1H824.1zM1064.5 609.7H1077.7V623.1H1064.5zM735.6 622.5H748.8V635.9H735.6zM773.5 622.5H799.4V635.9H773.5zM1064.5 622.5H1090.4V635.9H1064.5zM811.5 635.3H824.7V648.7H811.5zM1064.5 635.3H1077.7V648.7H1064.5zM748.2 648.1H761.4V661.5H748.2zM849.4 648.1H862.6V661.5H849.4zM786.2 660.9H799.4V674.3H786.2zM811.5 660.9H824.7V674.3H811.5zM836.8 660.9H862.6V674.3H836.8zM735.6 673.7H748.8V687.1H735.6zM811.5 673.7H862.6V687.1H811.5zM1013.9 673.7H1027.1V687.1H1013.9zM722.9 686.5H748.8V699.9H722.9zM811.5 686.5H824.7V699.9H811.5zM1013.9 686.5H1027.1V699.9H1013.9zM697.6 699.3H748.8V712.7H697.6zM1013.9 699.3H1027.1V712.7H1013.9zM697.6 712.1H723.5V725.5H697.6zM735.6 712.1H748.8V725.5H735.6zM887.4 712.1H900.6V725.5H887.4zM1013.9 712.1H1027.1V725.5H1013.9zM710.3 724.9H723.5V738.3H710.3zM887.4 724.9H900.6V738.3H887.4zM1013.9 724.9H1027.1V738.3H1013.9zM710.3 737.7H736.1V751.1H710.3zM887.4 737.7H900.6V751.1H887.4zM1013.9 737.7H1027.1V751.1H1013.9zM596.4 750.5H609.6V763.9H596.4zM672.3 750.5H710.9V763.9H672.3zM722.9 750.5H736.1V763.9H722.9zM786.2 750.5H799.4V763.9H786.2zM836.8 750.5H850.0V763.9H836.8zM887.4 750.5H900.6V763.9H887.4zM1013.9 750.5H1027.1V763.9H1013.9zM596.4 763.3H609.6V776.7H596.4zM685.0 763.3H698.2V776.7H685.0zM786.2 763.3H799.4V776.7H786.2zM836.8 763.3H850.0V776.7H836.8zM887.4 763.3H900.6V776.7H887.4zM1013.9 763.3H1027.1V776.7H1013.9zM659.7 776.1H672.9V789.5H659.7zM685.0 776.1H698.2V789.5H685.0zM710.3 776.1H723.5V789.5H710.3zM786.2 776.1H799.4V789.5H786.2zM836.8 776.1H850.0V789.5H836.8zM887.4 776.1H900.6V789.5H887.4zM1013.9 776.1H1027.1V789.5H1013.9zM659.7 788.9H672.9V816.0H659.7zM685.0 788.9H723.5V816.0H685.0zM786.2 788.9H799.4V816.0H786.2zM836.8 788.9H850.0V816.0H836.8zM887.4 788.9H900.6V816.0H887.4zM1013.9 788.9H1027.1V816.0H1013.9z"/><path fill="#62901f" d="M558.5 20.0H571.7V47.1H558.5zM697.6 20.0H723.5V47.1H697.6zM748.2 20.0H761.4V47.1H748.2zM609.1 46.5H622.3V59.9H609.1zM685.0 46.5H698.2V59.9H685.0zM634.4 59.3H660.2V72.7H634.4zM685.0 59.3H710.9V72.7H685.0zM621.7 72.1H660.2V85.5H621.7zM545.8 84.9H559.0V98.3H545.8zM621.7 84.9H634.9V98.3H621.7zM748.2 84.9H761.4V98.3H748.2zM444.6 110.5H457.9V123.9H444.6zM735.6 110.5H748.8V123.9H735.6zM887.4 110.5H900.6V123.9H887.4zM419.3 123.3H432.6V136.7H419.3zM444.6 123.3H457.9V136.7H444.6zM887.4 123.3H900.6V136.7H887.4zM406.6 136.1H419.9V149.5H406.6zM444.6 136.1H457.9V149.5H444.6zM520.5 136.1H533.8V149.5H520.5zM621.7 136.1H634.9V149.5H621.7zM1077.1 136.1H1103.0V149.5H1077.1zM153.6 148.9H166.9V162.3H153.6zM394.0 148.9H419.9V162.3H394.0zM469.9 148.9H483.2V162.3H469.9zM495.2 148.9H508.5V162.3H495.2zM647.0 148.9H660.2V162.3H647.0zM1039.2 148.9H1052.4V162.3H1039.2zM1089.8 148.9H1103.0V162.3H1089.8zM128.3 161.7H154.2V175.1H128.3zM406.6 161.7H419.9V175.1H406.6zM773.5 161.7H786.8V175.1H773.5zM798.8 161.7H812.0V175.1H798.8zM862.1 161.7H875.3V175.1H862.1zM975.9 161.7H989.1V175.1H975.9zM1051.8 161.7H1065.0V175.1H1051.8zM1077.1 161.7H1090.4V175.1H1077.1zM153.6 174.5H179.6V187.9H153.6zM356.1 174.5H382.0V187.9H356.1zM406.6 174.5H419.9V187.9H406.6zM571.1 174.5H584.3V187.9H571.1zM621.7 174.5H634.9V187.9H621.7zM975.9 174.5H989.1V187.9H975.9zM1013.9 174.5H1027.1V187.9H1013.9zM1077.1 174.5H1103.0V187.9H1077.1zM242.2 187.3H268.1V200.7H242.2zM356.1 187.3H369.3V200.7H356.1zM798.8 187.3H812.0V200.7H798.8zM874.7 187.3H887.9V200.7H874.7zM925.3 187.3H951.2V200.7H925.3zM988.6 187.3H1027.1V200.7H988.6zM242.2 200.1H255.5V213.5H242.2zM356.1 200.1H369.3V213.5H356.1zM406.6 200.1H419.9V213.5H406.6zM431.9 200.1H457.9V213.5H431.9zM482.6 200.1H495.8V213.5H482.6zM773.5 200.1H799.4V213.5H773.5zM874.7 200.1H887.9V213.5H874.7zM900.0 200.1H913.2V213.5H900.0zM1001.2 200.1H1027.1V213.5H1001.2zM1051.8 200.1H1077.7V213.5H1051.8zM153.6 212.9H166.9V226.3H153.6zM191.6 212.9H204.9V226.3H191.6zM216.9 212.9H255.5V226.3H216.9zM330.8 212.9H344.0V226.3H330.8zM444.6 212.9H457.9V226.3H444.6zM786.2 212.9H799.4V226.3H786.2zM887.4 212.9H900.6V226.3H887.4zM950.6 212.9H963.9V226.3H950.6zM988.6 212.9H1014.4V226.3H988.6zM141.0 225.7H166.9V239.1H141.0zM204.2 225.7H217.5V239.1H204.2zM229.6 225.7H255.5V239.1H229.6zM457.2 225.7H470.5V239.1H457.2zM748.2 225.7H761.4V239.1H748.2zM773.5 225.7H786.8V239.1H773.5zM849.4 225.7H862.6V239.1H849.4zM912.7 225.7H925.9V239.1H912.7zM1001.2 225.7H1014.4V239.1H1001.2zM178.9 238.5H192.2V251.9H178.9zM343.4 238.5H356.7V251.9H343.4zM431.9 238.5H445.2V251.9H431.9zM495.2 238.5H521.1V251.9H495.2zM609.1 238.5H622.3V251.9H609.1zM722.9 238.5H736.1V251.9H722.9zM925.3 238.5H938.5V251.9H925.3zM988.6 238.5H1001.8V251.9H988.6zM216.9 251.3H242.8V264.7H216.9zM343.4 251.3H356.7V264.7H343.4zM444.6 251.3H457.9V264.7H444.6zM596.4 251.3H622.3V264.7H596.4zM659.7 251.3H672.9V264.7H659.7zM722.9 251.3H736.1V264.7H722.9zM988.6 251.3H1001.8V264.7H988.6zM1026.5 251.3H1052.4V264.7H1026.5zM1102.4 251.3H1115.6V264.7H1102.4zM216.9 264.1H242.8V277.5H216.9zM343.4 264.1H382.0V277.5H343.4zM558.5 264.1H571.7V277.5H558.5zM672.3 264.1H685.5V277.5H672.3zM710.3 264.1H748.8V277.5H710.3zM963.3 264.1H976.5V277.5H963.3zM1026.5 264.1H1052.4V277.5H1026.5zM1102.4 264.1H1115.6V277.5H1102.4zM216.9 276.9H268.1V290.3H216.9zM343.4 276.9H369.3V290.3H343.4zM697.6 276.9H736.1V290.3H697.6zM950.6 276.9H963.9V290.3H950.6zM1026.5 276.9H1039.8V290.3H1026.5zM254.8 289.7H268.1V303.1H254.8zM330.8 289.7H356.7V303.1H330.8zM621.7 289.7H634.9V303.1H621.7zM950.6 289.7H963.9V303.1H950.6zM988.6 289.7H1001.8V303.1H988.6zM1013.9 289.7H1027.1V303.1H1013.9zM1089.8 289.7H1103.0V303.1H1089.8zM1115.0 289.7H1142.0V303.1H1115.0zM229.6 302.5H255.5V315.9H229.6zM318.1 302.5H331.4V315.9H318.1zM394.0 302.5H407.2V315.9H394.0zM419.3 302.5H445.2V315.9H419.3zM558.5 302.5H571.7V315.9H558.5zM609.1 302.5H622.3V315.9H609.1zM672.3 302.5H685.5V315.9H672.3zM748.2 302.5H774.1V315.9H748.2zM963.3 302.5H976.5V315.9H963.3zM1001.2 302.5H1014.4V315.9H1001.2zM1102.4 302.5H1142.0V315.9H1102.4zM204.2 315.3H217.5V328.7H204.2zM242.2 315.3H255.5V328.7H242.2zM292.8 315.3H306.1V328.7H292.8zM330.8 315.3H344.0V328.7H330.8zM406.6 315.3H432.6V328.7H406.6zM583.8 315.3H597.0V328.7H583.8zM621.7 315.3H634.9V328.7H621.7zM659.7 315.3H672.9V328.7H659.7zM773.5 315.3H786.8V328.7H773.5zM1039.2 315.3H1065.0V328.7H1039.2zM1077.1 315.3H1090.4V328.7H1077.1zM1102.4 315.3H1142.0V328.7H1102.4zM419.3 328.1H432.6V341.5H419.3zM520.5 328.1H533.8V341.5H520.5zM583.8 328.1H597.0V341.5H583.8zM798.8 328.1H812.0V341.5H798.8zM1026.5 328.1H1039.8V341.5H1026.5zM1089.8 328.1H1142.0V341.5H1089.8zM431.9 340.9H445.2V354.3H431.9zM571.1 340.9H584.3V354.3H571.1zM1115.0 340.9H1142.0V354.3H1115.0zM166.3 353.7H179.6V367.1H166.3zM394.0 353.7H407.2V367.1H394.0zM431.9 353.7H445.2V367.1H431.9zM533.2 353.7H546.4V367.1H533.2zM457.2 366.5H483.2V379.9H457.2zM533.2 366.5H546.4V379.9H533.2zM798.8 366.5H812.0V379.9H798.8zM988.6 366.5H1001.8V379.9H988.6zM318.1 379.3H331.4V392.7H318.1zM1051.8 379.3H1077.7V392.7H1051.8zM330.8 392.1H344.0V405.5H330.8zM545.8 392.1H571.7V405.5H545.8zM596.4 392.1H609.6V405.5H596.4zM634.4 392.1H647.6V405.5H634.4zM773.5 392.1H786.8V405.5H773.5zM963.3 392.1H976.5V405.5H963.3zM1001.2 392.1H1027.1V405.5H1001.2zM1064.5 392.1H1077.7V405.5H1064.5zM178.9 404.9H204.9V418.3H178.9zM444.6 404.9H457.9V418.3H444.6zM634.4 404.9H647.6V418.3H634.4zM748.2 404.9H786.8V418.3H748.2zM988.6 404.9H1014.4V418.3H988.6zM1064.5 404.9H1077.7V418.3H1064.5zM1089.8 404.9H1103.0V418.3H1089.8zM482.6 417.7H508.5V431.1H482.6zM748.2 417.7H761.4V431.1H748.2zM1064.5 417.7H1077.7V431.1H1064.5zM533.2 430.5H546.4V443.9H533.2zM824.1 430.5H837.4V443.9H824.1zM975.9 430.5H989.1V443.9H975.9zM1064.5 430.5H1077.7V443.9H1064.5zM292.8 443.3H306.1V456.7H292.8zM482.6 443.3H495.8V456.7H482.6zM533.2 443.3H559.0V456.7H533.2zM571.1 443.3H584.3V456.7H571.1zM634.4 443.3H647.6V456.7H634.4zM722.9 443.3H736.1V456.7H722.9zM811.5 443.3H824.7V456.7H811.5zM1026.5 443.3H1039.8V456.7H1026.5zM1064.5 443.3H1077.7V456.7H1064.5zM1102.4 443.3H1142.0V456.7H1102.4zM469.9 456.1H508.5V469.5H469.9zM710.3 456.1H723.5V469.5H710.3zM975.9 456.1H989.1V469.5H975.9zM1013.9 456.1H1027.1V469.5H1013.9zM1064.5 456.1H1077.7V469.5H1064.5zM1089.8 456.1H1103.0V469.5H1089.8zM254.8 468.9H268.1V482.3H254.8zM469.9 468.9H495.8V482.3H469.9zM533.2 468.9H546.4V482.3H533.2zM798.8 468.9H824.7V482.3H798.8zM950.6 468.9H976.5V482.3H950.6zM1089.8 468.9H1103.0V482.3H1089.8zM318.1 481.7H331.4V495.1H318.1zM773.5 481.7H786.8V495.1H773.5zM963.3 481.7H976.5V495.1H963.3zM988.6 481.7H1001.8V495.1H988.6zM1013.9 481.7H1027.1V495.1H1013.9zM1077.1 481.7H1103.0V495.1H1077.1zM128.3 494.5H141.6V507.9H128.3zM469.9 494.5H483.2V507.9H469.9zM710.3 494.5H723.5V507.9H710.3zM748.2 494.5H786.8V507.9H748.2zM824.1 494.5H837.4V507.9H824.1zM887.4 494.5H900.6V507.9H887.4zM1064.5 494.5H1090.4V507.9H1064.5zM1115.0 494.5H1142.0V507.9H1115.0zM685.0 507.3H786.8V520.7H685.0zM1077.1 507.3H1090.4V520.7H1077.1zM1115.0 507.3H1142.0V520.7H1115.0zM128.3 520.1H141.6V533.5H128.3zM685.0 520.1H736.1V533.5H685.0zM1077.1 520.1H1103.0V533.5H1077.1zM1115.0 520.1H1142.0V533.5H1115.0zM659.7 532.9H761.4V546.3H659.7zM1064.5 532.9H1142.0V546.3H1064.5zM394.0 545.7H419.9V559.1H394.0zM621.7 545.7H774.1V559.1H621.7zM798.8 545.7H824.7V559.1H798.8zM1064.5 545.7H1077.7V559.1H1064.5zM1089.8 545.7H1115.6V559.1H1089.8zM634.4 558.5H685.5V571.9H634.4zM836.8 558.5H850.0V571.9H836.8zM887.4 558.5H900.6V571.9H887.4zM912.7 558.5H925.9V571.9H912.7zM1064.5 558.5H1077.7V571.9H1064.5zM1089.8 558.5H1115.6V571.9H1089.8zM507.9 571.3H521.1V584.7H507.9zM609.1 571.3H685.5V584.7H609.1zM887.4 571.3H913.2V584.7H887.4zM925.3 571.3H938.5V584.7H925.3zM1051.8 571.3H1065.0V584.7H1051.8zM1089.8 571.3H1115.6V584.7H1089.8zM419.3 584.1H457.9V597.5H419.3zM482.6 584.1H508.5V597.5H482.6zM520.5 584.1H559.0V597.5H520.5zM571.1 584.1H597.0V597.5H571.1zM621.7 584.1H660.2V597.5H621.7zM672.3 584.1H698.2V597.5H672.3zM874.7 584.1H900.6V597.5H874.7zM1051.8 584.1H1065.0V597.5H1051.8zM1089.8 584.1H1115.6V597.5H1089.8zM419.3 596.9H457.9V610.3H419.3zM495.2 596.9H508.5V610.3H495.2zM520.5 596.9H584.3V610.3H520.5zM621.7 596.9H660.2V610.3H621.7zM874.7 596.9H887.9V610.3H874.7zM1039.2 596.9H1077.7V610.3H1039.2zM482.6 609.7H495.8V623.1H482.6zM520.5 609.7H546.4V623.1H520.5zM558.5 609.7H571.7V623.1H558.5zM634.4 609.7H647.6V623.1H634.4zM697.6 609.7H710.9V623.1H697.6zM912.7 609.7H925.9V623.1H912.7zM975.9 609.7H1014.4V623.1H975.9zM1026.5 609.7H1039.8V623.1H1026.5zM1051.8 609.7H1065.0V623.1H1051.8zM444.6 622.5H495.8V635.9H444.6zM520.5 622.5H533.8V635.9H520.5zM545.8 622.5H559.0V635.9H545.8zM621.7 622.5H647.6V635.9H621.7zM887.4 622.5H900.6V635.9H887.4zM938.0 622.5H963.9V635.9H938.0zM988.6 622.5H1039.8V635.9H988.6zM431.9 635.3H470.5V648.7H431.9zM495.2 635.3H521.1V648.7H495.2zM609.1 635.3H634.9V648.7H609.1zM925.3 635.3H951.2V648.7H925.3zM988.6 635.3H1001.8V648.7H988.6zM1039.2 635.3H1052.4V648.7H1039.2zM1089.8 635.3H1115.6V648.7H1089.8zM495.2 648.1H508.5V661.5H495.2zM596.4 648.1H622.3V661.5H596.4zM887.4 648.1H913.2V661.5H887.4zM988.6 648.1H1027.1V661.5H988.6zM1064.5 648.1H1077.7V661.5H1064.5zM1089.8 648.1H1115.6V661.5H1089.8zM495.2 660.9H508.5V674.3H495.2zM545.8 660.9H559.0V674.3H545.8zM596.4 660.9H622.3V674.3H596.4zM659.7 660.9H685.5V674.3H659.7zM862.1 660.9H875.3V674.3H862.1zM887.4 660.9H913.2V674.3H887.4zM988.6 660.9H1039.8V674.3H988.6zM1064.5 660.9H1077.7V674.3H1064.5zM1089.8 660.9H1115.6V674.3H1089.8zM495.2 673.7H521.1V687.1H495.2zM558.5 673.7H571.7V687.1H558.5zM672.3 673.7H685.5V687.1H672.3zM798.8 673.7H812.0V687.1H798.8zM874.7 673.7H951.2V687.1H874.7zM963.3 673.7H1001.8V687.1H963.3zM1026.5 673.7H1039.8V687.1H1026.5zM1064.5 673.7H1077.7V687.1H1064.5zM1089.8 673.7H1115.6V687.1H1089.8zM495.2 686.5H521.1V699.9H495.2zM533.2 686.5H546.4V699.9H533.2zM558.5 686.5H571.7V699.9H558.5zM634.4 686.5H647.6V699.9H634.4zM824.1 686.5H837.4V699.9H824.1zM862.1 686.5H875.3V699.9H862.1zM887.4 686.5H913.2V699.9H887.4zM925.3 686.5H938.5V699.9H925.3zM950.6 686.5H963.9V699.9H950.6zM975.9 686.5H1001.8V699.9H975.9zM1026.5 686.5H1039.8V699.9H1026.5zM1064.5 686.5H1077.7V699.9H1064.5zM1089.8 686.5H1115.6V699.9H1089.8zM507.9 699.3H533.8V712.7H507.9zM558.5 699.3H584.3V712.7H558.5zM609.1 699.3H660.2V712.7H609.1zM811.5 699.3H837.4V712.7H811.5zM849.4 699.3H862.6V712.7H849.4zM925.3 699.3H963.9V712.7H925.3zM975.9 699.3H1001.8V712.7H975.9zM1026.5 699.3H1039.8V712.7H1026.5zM1064.5 699.3H1077.7V712.7H1064.5zM1089.8 699.3H1115.6V712.7H1089.8zM216.9 712.1H242.8V725.5H216.9zM571.1 712.1H584.3V725.5H571.1zM659.7 712.1H685.5V725.5H659.7zM836.8 712.1H850.0V725.5H836.8zM925.3 712.1H963.9V725.5H925.3zM975.9 712.1H1001.8V725.5H975.9zM1026.5 712.1H1039.8V725.5H1026.5zM1064.5 712.1H1077.7V725.5H1064.5zM1089.8 712.1H1115.6V725.5H1089.8zM216.9 724.9H230.2V738.3H216.9zM571.1 724.9H597.0V738.3H571.1zM659.7 724.9H672.9V738.3H659.7zM925.3 724.9H963.9V738.3H925.3zM975.9 724.9H1001.8V738.3H975.9zM1026.5 724.9H1039.8V738.3H1026.5zM1064.5 724.9H1077.7V738.3H1064.5zM1089.8 724.9H1115.6V738.3H1089.8zM444.6 737.7H457.9V751.1H444.6zM558.5 737.7H584.3V751.1H558.5zM609.1 737.7H647.6V751.1H609.1zM748.2 737.7H786.8V751.1H748.2zM798.8 737.7H837.4V751.1H798.8zM925.3 737.7H963.9V751.1H925.3zM975.9 737.7H1001.8V751.1H975.9zM1026.5 737.7H1039.8V751.1H1026.5zM1064.5 737.7H1077.7V751.1H1064.5zM1089.8 737.7H1115.6V751.1H1089.8zM444.6 750.5H457.9V763.9H444.6zM571.1 750.5H584.3V763.9H571.1zM748.2 750.5H786.8V763.9H748.2zM798.8 750.5H837.4V763.9H798.8zM925.3 750.5H963.9V763.9H925.3zM975.9 750.5H1001.8V763.9H975.9zM1026.5 750.5H1039.8V763.9H1026.5zM1064.5 750.5H1077.7V763.9H1064.5zM1089.8 750.5H1115.6V763.9H1089.8zM444.6 763.3H457.9V776.7H444.6zM545.8 763.3H597.0V776.7H545.8zM748.2 763.3H786.8V776.7H748.2zM798.8 763.3H837.4V776.7H798.8zM925.3 763.3H963.9V776.7H925.3zM975.9 763.3H1001.8V776.7H975.9zM1026.5 763.3H1039.8V776.7H1026.5zM1064.5 763.3H1077.7V776.7H1064.5zM1089.8 763.3H1115.6V776.7H1089.8zM431.9 776.1H457.9V789.5H431.9zM469.9 776.1H483.2V789.5H469.9zM558.5 776.1H634.9V789.5H558.5zM735.6 776.1H786.8V789.5H735.6zM798.8 776.1H837.4V789.5H798.8zM925.3 776.1H963.9V789.5H925.3zM975.9 776.1H1001.8V789.5H975.9zM1026.5 776.1H1039.8V789.5H1026.5zM1064.5 776.1H1077.7V789.5H1064.5zM1089.8 776.1H1115.6V789.5H1089.8zM102.0 788.9H154.2V816.0H102.0zM419.3 788.9H457.9V816.0H419.3zM469.9 788.9H483.2V816.0H469.9zM596.4 788.9H634.9V816.0H596.4zM722.9 788.9H786.8V816.0H722.9zM798.8 788.9H837.4V816.0H798.8zM925.3 788.9H963.9V816.0H925.3zM975.9 788.9H1001.8V816.0H975.9zM1026.5 788.9H1039.8V816.0H1026.5zM1064.5 788.9H1077.7V816.0H1064.5zM1089.8 788.9H1115.6V816.0H1089.8z"/><path fill="#9966ff" d="M824.1 20.0H837.4V47.1H824.1zM849.4 20.0H875.3V47.1H849.4zM887.4 20.0H900.6V47.1H887.4zM950.6 20.0H989.1V47.1H950.6zM1013.9 20.0H1077.7V47.1H1013.9zM1102.4 20.0H1115.6V47.1H1102.4zM545.8 46.5H559.0V59.9H545.8zM912.7 46.5H925.9V59.9H912.7zM938.0 46.5H989.1V59.9H938.0zM1026.5 46.5H1039.8V59.9H1026.5zM1064.5 46.5H1077.7V59.9H1064.5zM533.2 59.3H559.0V72.7H533.2zM811.5 59.3H824.7V72.7H811.5zM900.0 59.3H913.2V72.7H900.0zM925.3 59.3H938.5V72.7H925.3zM950.6 59.3H963.9V72.7H950.6zM1013.9 59.3H1027.1V72.7H1013.9zM1039.2 59.3H1052.4V72.7H1039.2zM874.7 72.1H887.9V85.5H874.7zM900.0 72.1H913.2V85.5H900.0zM975.9 72.1H1001.8V85.5H975.9zM1026.5 72.1H1039.8V85.5H1026.5zM1051.8 72.1H1065.0V85.5H1051.8zM596.4 84.9H622.3V98.3H596.4zM659.7 84.9H672.9V98.3H659.7zM824.1 84.9H837.4V98.3H824.1zM874.7 84.9H900.6V98.3H874.7zM912.7 84.9H925.9V98.3H912.7zM963.3 84.9H1001.8V98.3H963.3zM1026.5 84.9H1039.8V98.3H1026.5zM1051.8 84.9H1065.0V98.3H1051.8zM178.9 97.7H192.2V111.1H178.9zM216.9 97.7H242.8V111.1H216.9zM292.8 97.7H306.1V111.1H292.8zM507.9 97.7H533.8V111.1H507.9zM621.7 97.7H660.2V111.1H621.7zM874.7 97.7H887.9V111.1H874.7zM938.0 97.7H951.2V111.1H938.0zM975.9 97.7H1001.8V111.1H975.9zM178.9 110.5H192.2V123.9H178.9zM216.9 110.5H255.5V123.9H216.9zM292.8 110.5H318.7V123.9H292.8zM469.9 110.5H483.2V123.9H469.9zM507.9 110.5H521.1V123.9H507.9zM545.8 110.5H559.0V123.9H545.8zM672.3 110.5H698.2V123.9H672.3zM849.4 110.5H887.9V123.9H849.4zM912.7 110.5H938.5V123.9H912.7zM975.9 110.5H989.1V123.9H975.9zM1026.5 110.5H1039.8V123.9H1026.5zM1089.8 110.5H1115.6V123.9H1089.8zM191.6 123.3H204.9V136.7H191.6zM216.9 123.3H255.5V136.7H216.9zM292.8 123.3H318.7V136.7H292.8zM545.8 123.3H571.7V136.7H545.8zM659.7 123.3H685.5V136.7H659.7zM710.3 123.3H736.1V136.7H710.3zM760.9 123.3H786.8V136.7H760.9zM798.8 123.3H812.0V136.7H798.8zM849.4 123.3H862.6V136.7H849.4zM900.0 123.3H925.9V136.7H900.0zM938.0 123.3H951.2V136.7H938.0zM975.9 123.3H989.1V136.7H975.9zM1001.2 123.3H1014.4V136.7H1001.2zM1077.1 123.3H1090.4V136.7H1077.1zM191.6 136.1H204.9V149.5H191.6zM216.9 136.1H268.1V149.5H216.9zM710.3 136.1H748.8V149.5H710.3zM836.8 136.1H862.6V149.5H836.8zM963.3 136.1H989.1V149.5H963.3zM1026.5 136.1H1065.0V149.5H1026.5zM204.2 148.9H217.5V162.3H204.2zM229.6 148.9H255.5V162.3H229.6zM292.8 148.9H318.7V162.3H292.8zM760.9 148.9H774.1V162.3H760.9zM166.3 161.7H204.9V175.1H166.3zM292.8 161.7H318.7V175.1H292.8zM102.0 174.5H154.2V187.9H102.0zM178.9 174.5H204.9V187.9H178.9zM381.4 174.5H394.6V187.9H381.4zM900.0 174.5H925.9V187.9H900.0zM1051.8 174.5H1077.7V187.9H1051.8zM102.0 187.3H204.9V200.7H102.0zM318.1 187.3H331.4V200.7H318.1zM368.7 187.3H432.6V200.7H368.7zM786.2 187.3H799.4V200.7H786.2zM912.7 187.3H925.9V200.7H912.7zM963.3 187.3H976.5V200.7H963.3zM1089.8 187.3H1115.6V200.7H1089.8zM102.0 200.1H179.6V213.5H102.0zM191.6 200.1H204.9V213.5H191.6zM318.1 200.1H331.4V213.5H318.1zM368.7 200.1H407.2V213.5H368.7zM419.3 200.1H432.6V213.5H419.3zM609.1 200.1H622.3V213.5H609.1zM1089.8 200.1H1103.0V213.5H1089.8zM102.0 212.9H154.2V226.3H102.0zM166.3 212.9H192.2V226.3H166.3zM318.1 212.9H331.4V226.3H318.1zM394.0 212.9H407.2V226.3H394.0zM419.3 212.9H445.2V226.3H419.3zM520.5 212.9H533.8V226.3H520.5zM128.3 225.7H141.6V239.1H128.3zM178.9 225.7H192.2V239.1H178.9zM343.4 225.7H356.7V239.1H343.4zM394.0 225.7H457.9V239.1H394.0zM520.5 225.7H533.8V239.1H520.5zM811.5 225.7H824.7V239.1H811.5zM1051.8 225.7H1077.7V239.1H1051.8zM191.6 238.5H217.5V251.9H191.6zM356.1 238.5H369.3V251.9H356.1zM381.4 238.5H432.6V251.9H381.4zM457.2 238.5H495.8V251.9H457.2zM760.9 238.5H824.7V251.9H760.9zM1064.5 238.5H1090.4V251.9H1064.5zM178.9 251.3H217.5V264.7H178.9zM242.2 251.3H268.1V264.7H242.2zM356.1 251.3H432.6V264.7H356.1zM457.2 251.3H546.4V264.7H457.2zM760.9 251.3H824.7V264.7H760.9zM1051.8 251.3H1090.4V264.7H1051.8zM178.9 264.1H217.5V277.5H178.9zM242.2 264.1H268.1V277.5H242.2zM381.4 264.1H407.2V277.5H381.4zM419.3 264.1H559.0V277.5H419.3zM685.0 264.1H710.9V277.5H685.0zM786.2 264.1H824.7V277.5H786.2zM1064.5 264.1H1077.7V277.5H1064.5zM178.9 276.9H217.5V290.3H178.9zM381.4 276.9H407.2V290.3H381.4zM431.9 276.9H508.5V290.3H431.9zM520.5 276.9H559.0V290.3H520.5zM685.0 276.9H698.2V290.3H685.0zM760.9 276.9H774.1V290.3H760.9zM786.2 276.9H799.4V290.3H786.2zM811.5 276.9H824.7V290.3H811.5zM1051.8 276.9H1065.0V290.3H1051.8zM166.3 289.7H230.2V303.1H166.3zM381.4 289.7H394.6V303.1H381.4zM406.6 289.7H559.0V303.1H406.6zM571.1 289.7H584.3V303.1H571.1zM596.4 289.7H622.3V303.1H596.4zM634.4 289.7H672.9V303.1H634.4zM697.6 289.7H723.5V303.1H697.6zM204.2 302.5H230.2V315.9H204.2zM254.8 302.5H268.1V315.9H254.8zM330.8 302.5H356.7V315.9H330.8zM381.4 302.5H394.6V315.9H381.4zM444.6 302.5H559.0V315.9H444.6zM571.1 302.5H609.6V315.9H571.1zM647.0 302.5H672.9V315.9H647.0zM685.0 302.5H736.1V315.9H685.0zM773.5 302.5H824.7V315.9H773.5zM1013.9 302.5H1027.1V315.9H1013.9zM254.8 315.3H268.1V328.7H254.8zM343.4 315.3H356.7V328.7H343.4zM381.4 315.3H407.2V328.7H381.4zM444.6 315.3H457.9V328.7H444.6zM469.9 315.3H584.3V328.7H469.9zM634.4 315.3H647.6V328.7H634.4zM672.3 315.3H761.4V328.7H672.3zM394.0 328.1H419.9V341.5H394.0zM444.6 328.1H521.1V341.5H444.6zM533.2 328.1H584.3V341.5H533.2zM621.7 328.1H647.6V341.5H621.7zM672.3 328.1H786.8V341.5H672.3zM444.6 340.9H559.0V354.3H444.6zM621.7 340.9H634.9V354.3H621.7zM659.7 340.9H710.9V354.3H659.7zM748.2 340.9H761.4V354.3H748.2zM798.8 340.9H812.0V354.3H798.8zM457.2 353.7H483.2V367.1H457.2zM495.2 353.7H533.8V367.1H495.2zM558.5 353.7H571.7V367.1H558.5zM647.0 353.7H698.2V367.1H647.0zM748.2 353.7H761.4V367.1H748.2zM798.8 353.7H812.0V367.1H798.8zM482.6 366.5H533.8V379.9H482.6zM647.0 366.5H660.2V379.9H647.0zM672.3 366.5H799.4V379.9H672.3zM419.3 379.3H445.2V392.7H419.3zM482.6 379.3H559.0V392.7H482.6zM609.1 379.3H622.3V392.7H609.1zM647.0 379.3H660.2V392.7H647.0zM672.3 379.3H761.4V392.7H672.3zM773.5 379.3H786.8V392.7H773.5zM495.2 392.1H546.4V405.5H495.2zM647.0 392.1H710.9V405.5H647.0zM722.9 392.1H761.4V405.5H722.9zM1102.4 392.1H1115.6V405.5H1102.4zM507.9 404.9H559.0V418.3H507.9zM647.0 404.9H748.8V418.3H647.0zM1115.0 404.9H1142.0V418.3H1115.0zM520.5 417.7H533.8V431.1H520.5zM647.0 417.7H723.5V431.1H647.0zM735.6 417.7H748.8V431.1H735.6zM1089.8 417.7H1103.0V431.1H1089.8zM659.7 430.5H698.2V443.9H659.7zM710.3 430.5H723.5V443.9H710.3zM735.6 430.5H748.8V443.9H735.6zM1077.1 430.5H1090.4V443.9H1077.1zM659.7 443.3H723.5V456.7H659.7zM102.0 494.5H129.0V507.9H102.0zM950.6 494.5H963.9V507.9H950.6zM102.0 507.3H129.0V520.7H102.0zM938.0 507.3H963.9V520.7H938.0zM102.0 520.1H129.0V533.5H102.0zM925.3 520.1H963.9V533.5H925.3zM925.3 532.9H951.2V546.3H925.3zM963.3 532.9H976.5V546.3H963.3zM988.6 532.9H1001.8V546.3H988.6zM988.6 545.7H1001.8V559.1H988.6zM786.2 558.5H799.4V571.9H786.2zM1013.9 558.5H1027.1V571.9H1013.9zM975.9 571.3H989.1V584.7H975.9zM1013.9 571.3H1027.1V584.7H1013.9zM824.1 584.1H837.4V597.5H824.1zM760.9 596.9H786.8V610.3H760.9zM798.8 596.9H824.7V610.3H798.8zM760.9 609.7H774.1V623.1H760.9zM798.8 609.7H824.7V623.1H798.8zM748.2 622.5H761.4V635.9H748.2zM811.5 622.5H837.4V635.9H811.5zM748.2 635.3H761.4V648.7H748.2zM722.9 648.1H748.8V661.5H722.9zM760.9 648.1H824.7V661.5H760.9zM722.9 660.9H748.8V674.3H722.9zM798.8 660.9H812.0V674.3H798.8zM722.9 673.7H736.1V687.1H722.9zM722.9 712.1H736.1V725.5H722.9zM697.6 724.9H710.9V738.3H697.6zM722.9 724.9H736.1V738.3H722.9zM697.6 737.7H710.9V751.1H697.6zM672.3 763.3H685.5V776.7H672.3zM697.6 763.3H710.9V776.7H697.6zM672.3 776.1H685.5V789.5H672.3zM697.6 776.1H710.9V789.5H697.6zM672.3 788.9H685.5V816.0H672.3z"/><path fill="#cfa2ff" d="M1077.1 20.0H1103.0V47.1H1077.1zM1115.0 20.0H1142.0V47.1H1115.0zM824.1 46.5H900.6V59.9H824.1zM1039.2 46.5H1065.0V59.9H1039.2zM1077.1 46.5H1142.0V59.9H1077.1zM824.1 59.3H862.6V72.7H824.1zM874.7 59.3H900.6V72.7H874.7zM1051.8 59.3H1142.0V72.7H1051.8zM824.1 72.1H850.0V85.5H824.1zM887.4 72.1H900.6V85.5H887.4zM912.7 72.1H925.9V85.5H912.7zM1064.5 72.1H1142.0V85.5H1064.5zM836.8 84.9H850.0V98.3H836.8zM1039.2 84.9H1052.4V98.3H1039.2zM1064.5 84.9H1142.0V98.3H1064.5zM457.2 97.7H470.5V111.1H457.2zM1001.2 97.7H1142.0V111.1H1001.2zM482.6 110.5H495.8V123.9H482.6zM520.5 110.5H546.4V123.9H520.5zM634.4 110.5H672.9V123.9H634.4zM988.6 110.5H1027.1V123.9H988.6zM1039.2 110.5H1090.4V123.9H1039.2zM685.0 123.3H710.9V136.7H685.0zM925.3 123.3H938.5V136.7H925.3zM1013.9 123.3H1077.7V136.7H1013.9zM748.2 136.1H774.1V149.5H748.2zM659.7 161.7H698.2V175.1H659.7zM760.9 340.9H799.4V354.3H760.9zM760.9 353.7H799.4V367.1H760.9zM659.7 366.5H672.9V379.9H659.7zM659.7 379.3H672.9V392.7H659.7zM697.6 430.5H710.9V443.9H697.6zM963.3 520.1H976.5V533.5H963.3zM798.8 558.5H824.7V571.9H798.8zM760.9 571.3H824.7V584.7H760.9zM760.9 584.1H824.7V597.5H760.9zM786.2 596.9H799.4V610.3H786.2zM824.1 596.9H837.4V610.3H824.1zM748.2 609.7H761.4V623.1H748.2zM760.9 622.5H774.1V635.9H760.9zM798.8 622.5H812.0V635.9H798.8zM760.9 635.3H812.0V648.7H760.9z"/><path fill="#ff7e00" d="M242.2 84.9H255.5V98.3H242.2zM242.2 97.7H255.5V111.1H242.2zM102.0 123.3H129.0V136.7H102.0zM178.9 123.3H192.2V136.7H178.9zM102.0 136.1H141.6V149.5H102.0zM280.2 136.1H293.4V149.5H280.2zM102.0 148.9H141.6V162.3H102.0zM216.9 174.5H230.2V187.9H216.9zM495.2 225.7H508.5V239.1H495.2zM102.0 251.3H129.0V264.7H102.0zM305.4 251.3H318.7V264.7H305.4zM102.0 264.1H141.6V277.5H102.0zM305.4 264.1H318.7V277.5H305.4zM102.0 276.9H141.6V290.3H102.0zM634.4 276.9H647.6V290.3H634.4zM659.7 276.9H672.9V290.3H659.7zM102.0 289.7H154.2V303.1H102.0zM141.0 302.5H166.9V315.9H141.0zM153.6 315.3H166.9V328.7H153.6zM368.7 315.3H382.0V328.7H368.7zM178.9 328.1H192.2V341.5H178.9zM267.5 328.1H293.4V341.5H267.5zM988.6 328.1H1001.8V341.5H988.6zM191.6 340.9H204.9V354.3H191.6zM356.1 340.9H382.0V354.3H356.1zM710.3 340.9H723.5V354.3H710.3zM1001.2 340.9H1014.4V354.3H1001.2zM102.0 353.7H141.6V367.1H102.0zM216.9 353.7H230.2V367.1H216.9zM254.8 353.7H280.8V367.1H254.8zM330.8 353.7H356.7V367.1H330.8zM735.6 353.7H748.8V367.1H735.6zM102.0 366.5H141.6V379.9H102.0zM330.8 366.5H356.7V379.9H330.8zM102.0 379.3H154.2V392.7H102.0zM242.2 379.3H293.4V392.7H242.2zM343.4 379.3H394.6V392.7H343.4zM811.5 379.3H824.7V392.7H811.5zM102.0 392.1H166.9V405.5H102.0zM216.9 392.1H293.4V405.5H216.9zM356.1 392.1H394.6V405.5H356.1zM457.2 392.1H470.5V405.5H457.2zM811.5 392.1H837.4V405.5H811.5zM102.0 404.9H179.6V418.3H102.0zM216.9 404.9H268.1V418.3H216.9zM356.1 404.9H394.6V418.3H356.1zM798.8 404.9H824.7V418.3H798.8zM102.0 417.7H192.2V431.1H102.0zM216.9 417.7H230.2V431.1H216.9zM242.2 417.7H268.1V431.1H242.2zM356.1 417.7H407.2V431.1H356.1zM798.8 417.7H812.0V431.1H798.8zM102.0 430.5H230.2V443.9H102.0zM242.2 430.5H268.1V443.9H242.2zM305.4 430.5H318.7V443.9H305.4zM356.1 430.5H407.2V443.9H356.1zM102.0 443.3H255.5V456.7H102.0zM343.4 443.3H356.7V456.7H343.4zM368.7 443.3H407.2V456.7H368.7zM102.0 456.1H242.8V469.5H102.0zM406.6 456.1H419.9V469.5H406.6zM912.7 456.1H938.5V469.5H912.7zM102.0 468.9H242.8V482.3H102.0zM381.4 468.9H394.6V482.3H381.4zM102.0 481.7H217.5V495.1H102.0zM229.6 481.7H255.5V495.1H229.6zM394.0 481.7H432.6V495.1H394.0zM166.3 494.5H192.2V507.9H166.3zM216.9 494.5H293.4V507.9H216.9zM406.6 494.5H419.9V507.9H406.6zM166.3 507.3H293.4V520.7H166.3zM166.3 520.1H293.4V533.5H166.3zM444.6 520.1H457.9V533.5H444.6zM153.6 532.9H293.4V546.3H153.6zM520.5 532.9H533.8V546.3H520.5zM141.0 545.7H293.4V559.1H141.0zM153.6 558.5H217.5V571.9H153.6zM102.0 571.3H129.0V584.7H102.0zM343.4 571.3H356.7V584.7H343.4zM102.0 584.1H154.2V597.5H102.0zM191.6 584.1H255.5V597.5H191.6zM267.5 584.1H331.4V597.5H267.5zM102.0 596.9H154.2V610.3H102.0zM191.6 596.9H293.4V610.3H191.6zM318.1 596.9H331.4V610.3H318.1zM102.0 609.7H154.2V623.1H102.0zM216.9 609.7H242.8V623.1H216.9zM318.1 609.7H331.4V623.1H318.1zM102.0 622.5H154.2V635.9H102.0zM204.2 622.5H242.8V635.9H204.2zM318.1 622.5H344.0V635.9H318.1zM102.0 635.3H154.2V648.7H102.0zM204.2 635.3H242.8V648.7H204.2zM254.8 635.3H268.1V648.7H254.8zM102.0 648.1H129.0V661.5H102.0zM178.9 648.1H242.8V661.5H178.9zM178.9 660.9H242.8V674.3H178.9zM343.4 660.9H356.7V674.3H343.4zM153.6 673.7H217.5V687.1H153.6zM267.5 673.7H318.7V687.1H267.5zM343.4 673.7H356.7V687.1H343.4zM141.0 686.5H217.5V699.9H141.0zM267.5 686.5H293.4V699.9H267.5zM305.4 686.5H331.4V699.9H305.4zM343.4 686.5H356.7V699.9H343.4zM141.0 699.3H217.5V712.7H141.0zM305.4 699.3H331.4V712.7H305.4zM343.4 699.3H356.7V712.7H343.4zM141.0 712.1H204.9V725.5H141.0zM267.5 712.1H280.8V725.5H267.5zM305.4 712.1H331.4V725.5H305.4zM153.6 724.9H204.9V738.3H153.6zM254.8 724.9H280.8V738.3H254.8zM305.4 724.9H318.7V738.3H305.4zM849.4 724.9H862.6V738.3H849.4zM153.6 737.7H204.9V751.1H153.6zM242.2 737.7H255.5V751.1H242.2zM141.0 750.5H154.2V763.9H141.0zM166.3 750.5H255.5V763.9H166.3zM128.3 763.3H154.2V776.7H128.3zM178.9 763.3H242.8V776.7H178.9zM128.3 776.1H141.6V789.5H128.3zM153.6 776.1H179.6V789.5H153.6zM191.6 776.1H217.5V789.5H191.6zM166.3 788.9H179.6V816.0H166.3zM191.6 788.9H217.5V816.0H191.6z"/><path fill="#ffd000" d="M735.6 340.9H748.8V354.3H735.6zM710.3 353.7H736.1V367.1H710.3z"/><path fill="#7a6a20" d="M343.4 507.3H369.3V520.7H343.4zM343.4 520.1H407.2V533.5H343.4zM343.4 532.9H432.6V546.3H343.4zM330.8 545.7H394.6V559.1H330.8zM419.3 545.7H445.2V559.1H419.3zM495.2 545.7H508.5V559.1H495.2zM318.1 558.5H369.3V571.9H318.1zM381.4 558.5H407.2V571.9H381.4zM431.9 558.5H457.9V571.9H431.9zM495.2 558.5H508.5V571.9H495.2zM394.0 571.3H407.2V584.7H394.0zM444.6 571.3H457.9V584.7H444.6zM482.6 571.3H508.5V584.7H482.6zM558.5 584.1H571.7V597.5H558.5zM596.4 584.1H622.3V597.5H596.4zM900.0 584.1H925.9V597.5H900.0zM583.8 596.9H622.3V610.3H583.8zM887.4 596.9H925.9V610.3H887.4zM596.4 609.7H609.6V623.1H596.4zM533.2 622.5H546.4V635.9H533.2zM596.4 622.5H622.3V635.9H596.4zM596.4 635.3H609.6V648.7H596.4zM444.6 648.1H495.8V661.5H444.6zM444.6 660.9H495.8V674.3H444.6zM431.9 673.7H470.5V687.1H431.9zM431.9 686.5H457.9V699.9H431.9zM938.0 686.5H951.2V699.9H938.0zM330.8 724.9H344.0V738.3H330.8zM318.1 737.7H344.0V751.1H318.1zM318.1 750.5H331.4V763.9H318.1zM356.1 776.1H369.3V789.5H356.1zM343.4 788.9H369.3V816.0H343.4z"/></g>
<g filter="url(#b2)"><g fill="#fff" stroke="none"><path d="M742.3 802.0L742.3 798.8L748.7 798.8L748.7 792.4L752.7 792.4L752.7 787.6L757.5 787.6L757.5 782.7L763.9 782.7L763.9 775.5L776.0 775.5L776.0 770.7L787.2 770.7L787.2 765.9L793.6 765.9L793.6 754.7L797.6 754.7L797.6 765.9L805.6 765.9L805.6 755.8L823.3 755.8L823.3 751.5L837.7 751.5L837.7 755.8L841.8 755.8L841.8 764.8L851.9 764.8L851.9 744.2L861.0 744.2L861.0 739.4L865.0 739.4L865.0 734.6L867.4 734.6L867.4 733.0L875.5 733.0L875.5 739.4L877.9 739.4L877.9 729.0L881.9 729.0L881.9 733.0L885.9 733.0L885.9 728.2L892.3 728.2L892.3 723.4L899.5 723.4L899.5 720.2L901.9 720.2L901.9 717.0L926.0 717.0L926.0 717.0L946.9 717.0L946.9 713.0L950.9 713.0L950.9 710.6L954.9 710.6L954.9 706.6L962.1 706.6L962.1 701.7L974.1 701.7L974.1 697.7L978.1 697.7L978.1 696.1L987.0 696.1L987.0 691.3L999.8 691.3L999.8 685.7L1031.9 685.7L1031.9 675.3L1059.2 675.3L1059.2 668.9L1072.0 668.9L1072.0 664.0L1097.7 664.0L1097.7 658.4L1113.7 658.4L1113.7 654.4L1123.3 654.4L1123.3 648.0L1129.0 648.0L1130.0 648.0L1130.0 805.0L742.3 805.0z"/><rect x="442.8" y="553.2" width="4.0" height="4.0"/><rect x="369.0" y="577.9" width="19.1" height="11.2"/><rect x="375.4" y="589.0" width="12.7" height="16.7"/><rect x="354.6" y="589.0" width="14.3" height="5.6"/><rect x="354.6" y="604.9" width="14.3" height="5.1"/><rect x="354.6" y="594.6" width="5.1" height="10.4"/><rect x="365.8" y="594.6" width="3.2" height="10.4"/><rect x="329.2" y="590.6" width="4.8" height="19.1"/><rect x="334.7" y="594.6" width="4.8" height="5.6"/><rect x="334.7" y="602.6" width="4.8" height="7.2"/><rect x="324.4" y="614.5" width="9.6" height="4.8"/><rect x="339.5" y="611.3" width="10.4" height="14.3"/><rect x="330.7" y="622.5" width="8.8" height="12.7"/><rect x="324.4" y="627.2" width="6.4" height="8.0"/><rect x="319.6" y="638.4" width="5.6" height="4.0"/><rect x="334.7" y="638.4" width="4.8" height="4.0"/><rect x="467.8" y="568.3" width="20.7" height="5.6"/><rect x="474.2" y="546.0" width="4.8" height="4.8"/><rect x="488.5" y="573.1" width="4.8" height="15.9"/><rect x="493.3" y="589.8" width="4.8" height="4.8"/><rect x="493.3" y="605.7" width="4.0" height="4.8"/><rect x="489.3" y="638.4" width="4.0" height="3.2"/><rect x="493.3" y="643.2" width="4.8" height="3.2"/><rect x="216.4" y="611.4" width="4.8" height="8.0"/><rect x="214.9" y="622.6" width="5.6" height="4.8"/><rect x="232.4" y="611.4" width="4.0" height="4.0"/><rect x="236.4" y="615.4" width="4.0" height="4.0"/><rect x="261.9" y="622.1" width="4.0" height="5.3"/><rect x="269.9" y="624.9" width="10.4" height="10.4"/><rect x="275.4" y="622.6" width="4.8" height="2.4"/><rect x="281.8" y="622.6" width="7.2" height="8.0"/><rect x="287.4" y="630.5" width="4.0" height="5.6"/><rect x="291.4" y="626.5" width="3.5" height="5.6"/><rect x="301.7" y="627.3" width="12.8" height="15.1"/><rect x="314.5" y="632.1" width="3.5" height="4.0"/><rect x="116.0" y="547.6" width="1.9" height="25.5"/><rect x="243.5" y="756.3" width="12.8" height="9.6"/><rect x="168.1" y="787.3" width="4.0" height="3.5"/><rect x="321.2" y="707.4" width="4.0" height="4.0"/><rect x="329.2" y="712.2" width="4.0" height="4.0"/><rect x="329.2" y="718.6" width="4.0" height="9.6"/><rect x="500.9" y="648.0" width="4.8" height="3.2"/><rect x="475.3" y="66.9" width="4.8" height="8.8"/><rect x="478.5" y="62.1" width="4.8" height="8.8"/><rect x="483.3" y="78.1" width="4.0" height="4.8"/><rect x="615.7" y="135.9" width="10.4" height="11.2"/><rect x="601.2" y="157.5" width="9.6" height="16.0"/><rect x="610.8" y="168.8" width="4.0" height="4.0"/><rect x="638.9" y="87.7" width="4.0" height="4.8"/><rect x="739.8" y="35.6" width="4.0" height="8.8"/><rect x="724.6" y="98.2" width="4.0" height="25.7"/><rect x="875.4" y="177.6" width="4.0" height="4.0"/><rect x="879.5" y="173.6" width="4.0" height="4.0"/><rect x="755.1" y="34.0" width="41.7" height="1.9"/><rect x="595.9" y="221.5" width="4.0" height="9.6"/><rect x="702.0" y="249.4" width="4.0" height="2.4"/><rect x="256.3" y="290.8" width="4.0" height="5.6"/><path d="M474.9 554.3L464.6 566.4L474.9 561.9z"/></g><g fill="none" stroke="#fff" stroke-width="4"><path d="M394.5 547.6L399.3 543.6L404.8 542.8L407.2 538.8L409.6 546.0L413.6 550.0L416.8 544.4L432.7 543.3L436.7 543.3L440.7 547.6"/><path d="M392.1 554.0L381.7 572.3"/></g></g></g>
<g clip-path="url(#cp)" fill="none" stroke="#2c3234" stroke-width="2.5" stroke-linejoin="round" stroke-linecap="round"><path d="M159.2 42.5L175.0 50.0L193.7 53.7L212.5 57.5L227.5 59.4L238.7 63.1L246.2 63.1L257.5 51.9L266.9 42.5L276.2 48.1L287.5 51.9L313.7 65.0L319.4 80.0L328.7 66.9L340.0 57.5L351.2 55.6L355.0 65.0L356.9 76.2L362.5 83.7L370.0 76.2L377.5 74.4L396.2 74.4L407.5 68.7L415.0 53.7L419.5 44.4"/><path d="M323.1 41.7L334.4 45.5L343.7 42.5"/><path d="M115.7 158.7L122.5 143.7L130.0 128.7L139.4 119.4L148.7 113.7L158.1 110.0L163.7 113.7L169.4 123.1L169.4 140.0L173.1 147.5L184.4 158.7L191.9 170.0L199.4 181.2L208.7 203.7L216.2 211.2L223.7 213.1L231.2 211.2L244.4 213.1L248.1 203.7L244.4 188.7L265.0 179.4L265.0 168.1L274.4 162.5L283.7 166.2L289.4 177.5L293.1 188.7L302.5 200.0L302.5 215.0L296.9 230.0L295.0 245.0L306.2 258.1L317.5 254.4L326.9 263.7L336.2 260.0L343.7 245.0L345.6 230.0L345.6 207.5L340.0 188.7L330.6 177.5L325.0 166.2L324.2 151.2L328.7 141.9L340.0 143.7L349.4 151.2L362.5 160.6L371.9 160.6L376.4 149.4L376.4 132.5L373.7 123.1L385.0 122.0L396.2 126.9L403.7 128.7L416.9 117.5L426.2 109.2L430.0 117.5L433.7 136.2L437.5 158.7L439.4 185.0L445.0 196.2L456.2 207.5L465.6 222.5L475.0 231.9L486.2 237.5L505.0 243.1L527.5 246.9L550.0 248.7L568.7 254.4L575.0 255.4"/><path d="M325.0 365.0L325.0 365.0L310.0 359.4L287.5 361.2L261.2 363.1L242.5 350.0L229.4 338.7L221.9 331.2L223.7 320.0L221.9 308.7L216.2 293.7L205.0 278.7L190.0 260.0L180.6 237.5L173.1 224.4L180.6 215.0L190.0 222.5L208.7 230.0L231.2 235.6L253.7 237.5L266.9 245.0L270.6 260.0L276.2 278.7L283.7 295.6L295.0 305.0L304.4 305.7L317.5 295.6L332.5 282.5L347.5 275.0L356.9 263.7L358.7 248.7L356.9 230.0L358.7 211.2L362.5 200.0L370.0 191.7L385.0 194.4L400.0 200.0L413.1 198.1L422.5 207.5L425.5 222.5L425.5 241.2L428.1 260.0L430.0 273.1L418.7 278.7L407.5 284.4L413.1 291.9L422.5 295.6L433.7 288.1L445.0 284.4L454.4 271.2L460.0 258.1L465.6 248.7L478.7 254.4L497.5 261.9L520.0 261.9L542.5 263.7L559.4 273.1L563.1 286.2L559.4 301.2L551.9 316.2L548.1 331.2L548.1 350.0L551.9 365.0L551.9 365.0"/><path d="M461.9 299.4L475.0 310.6L490.0 308.7L506.9 306.9L520.0 308.7L518.1 323.7L510.6 338.7L501.2 357.5L496.6 365.0"/><path d="M475.0 310.6L469.4 323.7L461.9 338.7L454.4 353.7L451.6 365.0"/><path d="M424.4 308.7L433.7 303.1L443.1 308.7L435.6 316.2L424.4 308.7"/><path d="M386.9 329.4L390.6 327.5L396.2 342.5L403.7 357.5L407.5 365.0"/><path d="M126.2 250.6L137.5 260.0L146.9 259.2L150.6 271.2L146.9 282.5L154.4 295.6L165.6 310.6L178.7 321.9L193.7 333.1L208.7 346.2L223.7 357.5L231.3 365.0"/><path d="M115.7 316.2L126.2 320.0L137.5 327.5L148.7 346.2L156.2 351.9L169.4 353.7L180.6 359.4L184.4 365.0"/><path d="M156.2 351.9L148.7 357.5L131.9 353.7L115.7 351.9"/><path d="M443.1 44.4L445.0 57.5L448.7 68.7L456.2 66.9L460.0 78.1L454.4 89.4L446.9 100.6L443.1 113.7L445.0 128.7L452.5 143.7L463.7 155.0L475.0 160.6L490.0 162.5L503.1 168.1L508.7 185.0L512.5 203.7L523.7 207.5L542.5 209.4L561.2 211.2L575.0 212.6"/><path d="M450.6 55.6L465.6 51.9L475.0 44.4"/><path d="M488.1 44.4L490.0 57.5L495.6 68.7L505.0 78.1L497.5 83.7L486.2 85.6L475.0 81.9L460.0 76.2"/><path d="M454.4 98.7L467.5 95.0L478.7 100.6L493.7 104.4L508.7 102.5L523.7 100.6L533.1 104.4L536.9 113.7L542.5 126.9L531.2 136.2L521.9 143.7L508.7 138.1L490.0 136.2L475.0 136.2L460.0 128.7L452.5 113.7L454.4 98.7"/><path d="M527.5 155.0L535.0 151.2L544.4 156.9L546.2 164.4L542.5 170.0L531.2 164.4L527.5 155.0"/><path d="M535.0 45.5L512.5 55.6L523.7 68.7L536.9 78.1L550.0 83.7L568.7 81.9L575.0 80.8"/><path d="M542.5 55.6L553.7 59.4L563.1 56.4L542.5 55.6"/><path d="M569.0 83.6L573.1 81.9L582.5 91.2L585.5 113.7L595.6 126.9L606.9 131.7L621.9 128.7L629.4 117.5L653.7 109.2L672.5 113.7L687.5 118.2L702.5 120.5L717.5 134.4L726.9 140.0L743.7 137.0L762.5 131.7L765.5 115.6L762.5 100.6"/><path d="M689.4 65.0L696.9 48.1L711.9 38.7L726.9 43.2L740.0 53.7L755.0 51.9L770.0 53.7L788.7 57.5L803.7 68.7L813.1 83.7L816.9 98.7L813.1 117.5L807.5 130.6L800.0 138.1L788.7 128.7L777.5 117.5L770.0 110.0L755.0 108.1L743.7 110.0L740.0 121.2L736.2 132.5L725.0 128.7L715.6 117.5L710.0 106.2L704.4 95.0L698.7 83.7L691.2 76.2L689.4 65.0"/><path d="M740.0 55.6L755.0 59.4L770.0 65.0L775.6 76.2L771.9 87.5L758.7 91.2L745.6 91.2L736.2 81.9L734.4 68.7L740.0 55.6"/><path d="M706.2 57.5L713.7 48.1L725.0 44.4L728.7 65.0L726.9 95.0L725.0 125.0L719.4 115.6L713.7 95.0L708.1 76.2L706.2 57.5"/><path d="M605.0 102.5L616.2 100.6L623.7 110.0L616.2 117.5L608.7 111.9L605.0 102.5"/><path d="M631.2 116.7L635.0 128.7L646.2 140.0L665.0 145.6L687.5 145.6L710.0 141.9L725.0 140.0L730.6 149.4L728.7 162.5L723.1 173.7L725.0 185.0L736.2 188.7L755.0 186.9L764.4 177.5L770.0 170.0L781.2 164.4L800.0 160.6L818.7 155.0L833.7 143.7L839.4 128.7L852.5 113.7L863.7 119.4L865.6 132.5L875.0 141.9L886.2 132.5L890.0 119.4L897.5 106.2L905.0 96.9L906.9 89.4L912.5 89.4L918.1 98.7L921.9 110.0L925.6 119.4L938.7 119.4L950.0 115.6L961.2 111.9L972.5 117.5L981.9 125.0L983.7 136.2L978.1 147.5L970.6 162.5L965.0 177.5L961.2 192.5L957.5 207.5L957.5 215.0L972.5 224.4L981.9 230.0L991.2 222.5L1006.2 216.9L1000.6 203.7L995.0 188.7L989.4 170.0L987.5 151.2L991.2 140.0L1002.5 134.4L1017.5 130.6L1023.0 133.4"/><path d="M770.0 168.1L775.6 158.7L788.7 153.1L803.7 147.5L818.7 136.2L828.1 125.0L835.6 110.0L845.0 102.5L852.5 100.6L860.0 106.2L871.2 110.0L882.5 108.1L893.7 100.6L901.2 91.2L903.1 76.2L893.7 68.7L882.5 63.1L878.7 51.9L890.0 45.5L899.4 40.6"/><path d="M906.9 89.4L910.6 106.2L912.5 121.2L920.0 132.5L938.7 143.7L931.2 155.0L920.0 166.2L923.7 177.5L912.5 182.0L897.5 185.0L886.2 179.4L880.6 175.6L878.7 188.7L873.1 201.9L886.2 205.6L897.5 203.7L908.7 211.2L925.6 220.6L927.5 233.7L925.6 245.0L938.7 250.6L953.7 254.4L968.7 260.0L972.5 275.0L980.0 290.0L987.5 301.2L995.0 308.7L980.0 314.4L965.0 315.5L950.0 310.6L935.0 308.7L925.6 316.2L921.9 331.2L923.7 350.0L918.1 365.0L918.1 365.0"/><path d="M818.7 276.9L833.7 282.5L845.0 293.7L856.2 306.9L863.7 316.2L861.9 327.5L854.4 338.7L846.9 353.7L842.7 365.0"/><path d="M569.0 255.9L571.2 256.2L582.5 252.5L590.0 260.0L601.2 269.4L616.2 275.0L635.0 278.7L653.7 276.9L672.5 275.0L683.7 269.4L691.2 263.7L700.6 261.9L717.5 265.6L736.2 271.2L755.0 282.5L762.5 290.0L747.5 291.9L732.5 293.7L726.9 299.4L732.5 305.0L747.5 310.6L762.5 316.2L777.5 320.0L792.5 331.2L800.0 338.7L801.9 350.0L800.0 361.2L797.5 365.0"/><path d="M700.6 248.7L717.5 245.0L736.2 250.6L755.0 260.0L773.7 263.7L792.5 267.5L807.5 273.1L818.7 276.9"/><path d="M612.5 365.0L616.2 361.2L635.0 346.2L653.7 338.7L668.7 333.1L683.7 335.0L689.4 346.2L696.9 359.4L700.3 365.0"/><path d="M586.2 365.0L588.1 357.5L590.0 327.5L591.9 297.5L595.6 288.1L616.2 290.0L635.0 288.1L657.5 286.2L672.5 284.4"/><path d="M569.0 211.6L571.2 211.2L586.2 213.1L595.6 205.6L605.0 205.6L606.9 222.5L612.5 237.5L621.9 245.0L633.1 248.7L640.6 241.2L640.6 228.1L644.4 216.9L661.2 209.4L676.2 207.5"/><path d="M627.5 159.5L640.6 158.7L653.7 164.4L668.7 177.5L681.9 185.0L668.7 186.9L640.6 186.9L627.5 188.7L616.2 192.5L616.2 203.7L620.0 215.0L627.5 222.5L633.1 207.5L640.6 196.2"/><path d="M680.0 162.5L693.1 158.7L704.4 156.9L711.9 162.5L717.5 168.1L710.0 177.5L702.5 185.0L696.9 173.7L691.2 164.4L680.0 162.5"/><path d="M689.4 231.9L700.6 220.6L710.0 224.4L721.2 230.0L736.2 231.9L745.6 233.7L736.2 237.5L717.5 235.6L700.6 237.5L689.4 231.9"/><path d="M764.4 222.5L775.6 220.6L785.0 228.1L786.9 237.5L781.2 233.7L773.7 226.2L764.4 222.5"/><path d="M785.0 216.9L794.4 220.6L797.0 230.0L792.5 235.6"/><path d="M963.1 44.4L957.5 51.9L951.9 61.2L961.2 68.7L976.2 74.4L995.0 79.2L1010.0 76.2L1023.0 68.8"/><path d="M901.2 51.9L910.6 59.4L918.1 50.0L920.0 42.5"/><path d="M899.4 53.7L908.7 46.2L914.4 41.7"/><path d="M929.4 42.5L925.6 57.5L914.4 70.6L916.2 80.0L927.5 89.4L938.7 102.5L950.0 98.7L959.4 89.4L972.5 91.2L987.5 98.7L998.7 110.0L1010.0 115.6L1023.0 108.2"/><path d="M1004.4 261.9L1011.9 257.0L1018.2 263.0L1010.0 267.5L1004.4 261.9"/><path d="M1019.4 299.4L1023.0 298.4"/><path d="M655.6 36.9L659.4 57.5L666.9 80.0"/><path d="M672.5 36.9L681.9 48.1L687.5 38.7"/><path d="M599.4 155.0L606.9 158.7L610.6 171.9L605.0 173.7L601.2 164.4L599.4 155.0"/><path d="M1017.0 71.6L1020.6 68.7L1028.1 57.5L1033.0 44.4"/><path d="M1039.4 44.4L1046.9 51.9L1056.2 57.5L1065.6 51.9L1074.2 46.2L1075.0 36.9"/><path d="M1078.7 36.9L1080.6 50.0L1088.1 61.2L1099.4 76.2L1108.7 87.5L1119.2 89.4"/><path d="M1033.0 78.1L1037.5 79.2L1035.2 87.5L1033.0 78.1"/><path d="M1017.0 112.3L1022.5 108.1L1031.9 119.4L1043.1 128.7L1056.2 126.9L1065.6 111.9L1075.0 128.7L1088.1 129.5L1101.2 125.0L1110.6 123.1L1119.2 118.2"/><path d="M1017.0 132.2L1022.5 131.7L1028.1 138.1L1041.2 143.7L1056.2 145.6L1071.2 149.4L1086.2 149.4L1097.5 140.0L1110.6 134.4L1119.2 131.7"/><path d="M1058.1 166.2L1065.6 164.4L1075.0 173.7L1080.6 185.0L1084.4 194.4L1093.7 203.7L1101.2 215.0L1110.6 222.5L1117.0 224.4L1127.5 211.2"/><path d="M1058.1 166.2L1054.4 173.7L1055.5 183.1L1045.0 188.7L1037.5 196.2L1039.4 205.6L1046.9 216.9L1055.5 230.0L1057.0 241.2L1050.6 248.7L1044.2 263.0L1060.0 267.5L1075.0 270.5L1086.2 275.0L1090.0 286.2L1084.4 295.6L1071.2 305.0L1061.9 316.2L1046.9 320.0L1045.7 331.2L1050.6 336.9L1061.9 338.7L1075.0 346.2L1086.2 355.6L1084.9 365.0"/><path d="M1022.5 297.5L1037.5 293.0L1050.6 290.0L1056.2 299.4L1041.2 301.2L1022.5 297.5"/><path d="M1017.0 262.0L1018.0 263.0L1017.0 263.6"/><path d="M1123.7 284.4L1112.5 282.5L1106.9 297.5L1112.5 316.2L1108.7 327.5L1099.4 333.1L1106.9 346.2L1110.6 361.2L1111.9 365.0"/><path d="M1123.7 308.7L1121.9 327.5L1123.0 342.5"/><path d="M126.2 373.7L137.5 385.0L152.5 400.0L167.5 415.0L186.2 428.1L205.0 437.5L220.0 450.6L231.2 459.2L242.5 456.2L250.0 445.0L251.9 431.9L251.9 420.6L257.5 407.5L263.1 398.1L276.2 400.0L295.0 407.5L310.0 415.0L325.0 426.2L336.2 438.2L347.5 436.7L350.5 424.4L345.6 409.4L336.2 396.2L328.7 385.0L321.2 375.6L310.0 370.0L287.5 370.0L265.0 375.6L246.2 373.7L231.2 368.1L219.1 359.0"/><path d="M255.4 359.0L261.2 362.5L283.7 360.6L303.2 359.0"/><path d="M307.1 359.0L325.0 364.4L340.0 373.7L355.0 388.7L366.2 407.5L377.5 426.2L385.0 445.0L390.6 460.0L386.9 469.4L375.6 473.1L358.7 467.5L347.5 473.1L332.5 476.9L317.5 467.5L310.0 471.2L302.5 478.0L310.0 488.1L313.7 501.2L325.0 512.5L340.0 516.2L351.2 523.7L360.6 535.0L366.2 546.2L365.5 557.5L358.7 565.0L340.0 568.7L325.0 574.4L304.4 581.9L295.0 580.0L276.2 583.7L257.5 581.9L250.0 585.6L231.2 583.7L212.5 585.6L199.4 581.9L195.6 572.5L188.1 563.1L180.6 559.4L180.6 550.0L176.9 535.0L171.2 524.5L180.6 512.5L193.7 497.5L201.2 482.5L199.4 469.4L190.0 460.0L175.0 452.5L156.2 446.9L146.9 437.5L135.6 435.6L126.2 437.5"/><path d="M407.7 359.0L415.0 366.2L430.0 381.2L439.4 392.5L445.0 396.2L450.6 388.7L454.4 377.5L458.1 362.5L459.3 359.0"/><path d="M498.7 359.0L491.9 370.0L486.2 388.7L484.4 407.5L478.7 422.5L476.9 433.7L484.4 448.7L493.7 460.0L508.7 456.2L518.1 446.9L527.5 435.6L535.0 422.5L544.4 411.2L550.0 403.7L561.2 398.1L575.0 396.7"/><path d="M551.5 359.0L555.6 370.0L559.4 381.2L572.5 375.6L575.0 374.4"/><path d="M390.6 373.7L400.0 385.0L415.0 400.0L430.0 415.0L445.0 430.0L458.1 445.0L469.4 463.7L476.9 482.5L478.7 501.2L480.6 520.0L482.5 535.0L493.7 533.1L512.5 527.5L531.2 520.0L550.0 512.5L568.7 505.0L575.0 502.9"/><path d="M431.9 433.7L426.2 448.7L422.5 467.5L428.1 482.5L435.6 497.5L439.4 516.2L443.1 531.2L450.6 544.4L460.0 551.9L469.4 550.0L475.0 538.7L473.1 523.7L469.4 508.7L465.6 490.0L460.0 471.2L450.6 452.5L439.4 439.4L431.9 433.7"/><path d="M126.2 566.9L126.2 580.0L133.7 589.4L143.1 602.5L150.6 615.6L161.9 626.9L175.0 636.2L188.1 641.9L205.0 640.0L216.2 645.6L229.4 655.0L242.5 666.2L250.0 673.7L261.2 673.7L272.5 670.0L283.7 673.7L295.0 671.9L303.3 675.0"/><path d="M348.7 675.0L345.6 662.5L343.7 651.2L351.2 640.0L362.5 634.4L377.5 625.0L392.5 613.7L400.0 604.4L398.1 591.2L390.6 580.0L385.0 568.7L388.7 553.7L392.5 548.1"/><path d="M118.7 486.2L128.1 499.4L139.4 508.7L146.9 514.4L146.9 525.6L145.0 535.0L146.9 550.0L152.5 565.0L163.7 574.4L175.0 578.1L184.4 583.7L190.0 595.0L201.2 600.6L216.2 602.5L231.2 598.7L250.0 602.5L265.0 604.4L280.0 600.6L295.0 598.7L310.0 591.2L325.0 585.6L343.7 580.0L362.5 576.2L379.4 574.4"/><path d="M400.0 568.7L407.5 561.2L422.5 558.2L433.7 565.0L439.4 580.0L452.5 591.2L465.6 595.0L476.9 596.9L471.2 606.2L460.0 613.7L448.7 616.7L433.7 613.7L418.7 608.1L411.2 598.7L403.7 583.7L400.0 568.7"/><path d="M491.9 550.0L503.1 545.5L514.4 550.7L512.5 561.2L501.2 565.0L491.9 561.2L491.9 550.0"/><path d="M575.0 554.2L561.2 555.6L546.2 561.2L535.0 568.7L531.2 580.0L520.0 589.4L506.9 598.7L499.4 610.0L495.6 625.0L503.1 634.4L516.2 638.1L529.4 632.5L536.9 621.2L544.4 608.1L553.7 598.7L568.7 595.0L575.0 594.6"/><path d="M508.7 610.0L514.4 602.5L523.7 600.6L526.7 611.9L521.9 623.1L512.5 621.2L508.7 610.0"/><path d="M490.0 636.2L482.5 645.6L471.2 649.4L460.0 641.9L452.5 653.1L471.2 658.7L490.0 658.0L505.0 653.1L516.2 645.6L523.7 640.0"/><path d="M373.7 673.7L379.4 669.2L387.2 675.0"/><path d="M374.1 675.0L373.7 673.7"/><path d="M575.0 616.9L565.0 619.4L550.0 625.0L535.0 636.2L523.7 640.0"/><path d="M575.0 648.1L563.1 649.4L546.2 653.1L531.2 658.7L516.2 666.2L508.9 675.0"/><path d="M575.0 670.0L565.0 670.0L550.0 673.7L548.7 675.0"/><path d="M180.8 359.0L188.1 371.9L186.2 385.0L178.7 389.5L169.4 383.1L161.9 370.0L157.7 359.0"/><path d="M152.6 359.0L148.7 363.2L137.5 365.5"/><path d="M569.0 401.1L571.2 400.0L586.2 388.7L597.5 377.5L608.7 362.5L613.4 359.0"/><path d="M569.0 374.5L571.2 373.7L582.5 366.2L585.2 359.0"/><path d="M705.9 359.0L704.4 370.0L700.6 385.0L693.1 400.0L685.6 407.5L668.7 411.2L650.0 415.0L650.0 430.0L653.7 441.2L661.2 448.7L650.0 452.5L631.2 448.7L616.2 458.1L601.2 471.2L603.1 482.5L590.0 490.0L575.0 499.4L569.0 501.6"/><path d="M802.2 359.0L800.0 370.0L792.5 381.2L781.2 392.5L773.7 403.7L764.4 415.0L755.0 426.2L747.5 437.5L736.2 448.7L721.2 460.0L706.2 469.4L683.7 473.1L653.7 476.9L640.6 484.4L629.4 497.5L616.2 506.9L605.0 516.2L593.7 527.5L578.7 533.1L569.0 534.1"/><path d="M843.0 359.0L839.4 366.2L837.5 381.2L830.0 396.2L824.4 411.2L815.0 422.5L800.0 433.7L783.1 445.0L770.0 456.2L758.7 467.5L747.5 478.7L736.2 486.2L717.5 490.0L698.7 490.0L680.0 488.1L666.9 493.7L663.1 505.0L659.4 516.2L646.2 523.7L631.2 531.2L616.2 542.5L601.2 553.7L590.0 561.2L580.6 570.6L582.5 576.2L597.5 583.7L616.2 585.6L625.6 593.1L631.2 610.0L635.0 628.7L644.4 640.0L648.1 647.5L638.7 658.7L635.0 666.2L640.6 673.7L642.7 675.0"/><path d="M663.5 675.0L668.7 666.2L670.6 658.7L681.9 656.9L687.5 666.2L689.7 675.0"/><path d="M922.2 359.0L920.0 366.2L914.4 381.2L908.7 394.4L895.6 400.0L878.7 407.5L867.5 420.6L856.2 433.7L841.2 446.9L826.2 460.0L815.0 471.2L803.7 482.5L792.5 497.5L783.1 512.5L777.5 521.9L779.4 531.2L792.5 523.7L807.5 516.2L822.5 510.6L845.0 505.0L867.5 503.1L886.2 502.0L893.7 512.5L890.7 527.5L895.6 542.5L905.0 550.0L920.0 544.4L935.0 542.5L946.2 550.0L957.5 561.2L968.7 580.0L980.0 593.1L991.2 580.0L993.1 561.2L1002.5 557.5L1015.6 553.7L1023.0 547.4"/><path d="M865.6 478.0L878.7 476.9L888.1 479.5L889.2 467.5L882.5 471.2L876.9 478.0"/><path d="M1023.0 393.5L1019.4 392.5L1006.2 386.9L995.0 383.1L991.2 396.2L987.5 415.0L989.4 430.0L983.7 445.0L995.0 456.2L1006.2 467.5L1010.0 473.1L1002.5 482.5L1013.7 475.0L1023.0 471.0"/><path d="M957.5 536.9L965.0 527.5L972.5 521.9L981.9 525.6L991.2 518.1L1004.4 514.4L995.0 523.7L987.5 529.4L976.2 535.0L965.0 544.4L959.4 548.1L957.5 536.9"/><path d="M835.6 546.2L845.0 538.7L854.4 538.0L860.0 550.0L858.1 565.0L854.4 580.0L852.5 587.5L846.9 572.5L841.2 557.5L835.6 546.2"/><path d="M873.1 561.2L880.6 553.7L890.0 555.6L882.5 565.0L875.0 572.5L873.1 561.2"/><path d="M651.9 587.5L657.5 578.1L672.5 568.7L691.2 563.1L710.0 557.5L728.7 550.0L747.5 544.4L764.4 544.4L777.5 551.9L788.7 559.4L807.5 557.5L822.5 555.6L833.7 561.2L839.4 572.5L843.1 587.5L846.9 602.5L845.0 617.5L835.6 630.6L822.5 641.9L811.2 649.4L800.0 656.9L785.0 658.7L770.0 658.7L758.7 666.2L751.2 673.7L749.6 675.0"/><path d="M727.5 675.0L725.0 670.0L728.7 656.9L734.4 643.7L736.2 632.5L728.7 636.2L710.0 640.0L687.5 641.9L672.5 640.0L665.0 632.5L668.7 621.2L674.4 610.0L672.5 598.7L661.2 595.0L651.9 587.5"/><path d="M736.2 610.0L734.4 595.0L738.1 581.9L747.5 574.4L762.5 570.6L777.5 572.5L800.0 570.6L816.9 566.9L826.2 572.5L830.0 583.7L828.1 595.0L818.7 598.7L807.5 602.5L811.2 610.0L816.9 619.4L811.2 632.5L803.7 641.9L796.2 647.5L781.2 645.6L766.2 651.2L755.0 647.5L751.2 636.2L745.6 625.0L736.2 610.0"/><path d="M758.0 598.7L766.2 589.4L779.4 585.6L790.6 589.4L800.0 591.2L788.7 600.6L779.4 608.1L768.1 602.5L758.0 598.7"/><path d="M680.0 625.0L687.5 619.4L702.5 617.5L717.5 619.4L725.0 625.0L717.5 630.6L702.5 632.5L687.5 631.7L680.0 625.0"/><path d="M665.0 632.5L672.5 617.5L687.5 610.0L710.0 608.1L728.7 613.7L736.2 610.0"/><path d="M852.5 587.5L860.0 602.5L856.2 617.5L848.7 632.5L839.4 647.5L828.1 658.7L815.0 668.1L800.0 673.7L796.7 675.0"/><path d="M860.0 602.5L871.2 598.7L882.5 591.2L893.7 580.0L908.7 570.6L923.7 566.9L935.0 572.5L942.5 583.7L948.1 598.7L957.5 610.0L972.5 611.9L991.2 610.0L1010.0 602.5L1023.0 592.7"/><path d="M820.4 675.0L822.5 673.7L839.4 660.6L850.6 643.7L860.0 628.7L865.6 617.5L871.2 606.2L882.5 600.6L897.5 596.9L912.5 602.5L923.7 608.1L935.0 619.4L946.2 632.5L957.5 640.0L968.7 651.2L978.1 655.0L979.2 645.6L972.5 636.2L970.6 625.0L983.7 617.5L1002.5 611.9L1021.2 608.1L1023.0 607.6"/><path d="M840.0 675.0L845.0 670.0L856.2 655.0L861.9 636.2L869.4 630.6L878.7 636.2L886.2 645.6L893.7 653.1L905.0 658.7L920.0 662.5L935.0 666.2L950.0 671.9L965.0 673.7L980.0 671.9L991.2 666.2L995.0 655.0L991.2 640.0L987.5 630.6"/><path d="M569.0 595.0L582.5 595.0L605.0 598.7L614.4 610.0L616.2 628.7L620.0 651.2L621.9 670.0L619.9 675.0"/><path d="M569.0 616.0L575.0 617.5L590.0 628.7L599.4 647.5L606.9 666.2L606.0 675.0"/><path d="M1085.7 359.0L1084.4 368.1L1080.6 381.2L1075.0 386.9L1060.0 386.9L1045.0 392.5L1033.7 396.2L1022.5 398.1L1017.0 394.5"/><path d="M1108.1 359.0L1106.9 366.2L1116.2 371.9L1123.7 375.6"/><path d="M1026.2 426.2L1037.5 420.6L1048.7 416.9L1061.9 420.6L1067.5 430.0L1069.4 441.2L1069.4 452.5L1063.7 460.0L1056.2 461.9L1052.5 454.4L1053.2 446.9L1045.0 441.2L1035.6 437.5L1028.1 433.7L1026.2 426.2"/><path d="M1120.0 405.6L1108.7 407.5L1099.4 409.4L1091.9 416.9L1090.0 428.1L1097.5 430.0L1106.9 424.4L1116.2 422.5L1121.9 424.4"/><path d="M1123.7 448.7L1108.7 454.4L1093.7 461.9L1080.6 471.2L1076.9 484.4L1071.2 497.5L1065.6 512.5L1058.1 525.6L1046.9 536.9L1035.6 544.4L1022.5 551.9L1017.0 554.6"/><path d="M1120.0 475.0L1112.5 484.4L1099.4 486.2L1091.9 491.9L1088.1 505.0L1084.4 516.2L1075.0 525.6L1065.6 533.1L1056.2 542.5L1050.6 551.9L1048.7 565.0L1046.9 576.2L1037.5 585.6L1022.5 595.0L1017.0 597.7"/><path d="M1017.0 470.0L1018.7 469.4L1031.9 469.4L1035.6 478.7L1031.9 490.0L1030.0 501.2L1041.2 505.0L1046.9 508.7L1043.1 518.1L1035.6 523.7L1028.1 531.2L1020.6 538.7L1017.0 546.0"/><path d="M1017.0 616.7L1024.4 615.6L1037.5 608.1L1046.9 600.6L1054.4 595.0L1060.0 598.7L1056.2 610.0L1055.5 623.1L1060.0 634.4L1069.4 640.0L1080.6 636.2L1090.0 632.5L1093.0 621.2L1097.5 617.5L1108.7 615.6L1120.0 619.4L1127.5 621.2"/><path d="M1067.5 619.4L1073.1 610.0L1078.7 613.7L1079.5 623.1L1074.2 629.5L1067.5 619.4"/><path d="M1112.5 576.2L1118.1 580.0L1125.6 578.1"/><path d="M1120.0 557.5L1123.7 565.0L1125.6 572.5"/><path d="M1112.1 672.0L1114.4 670.0L1123.7 669.2"/><path d="M1037.0 689.5L1037.5 689.5L1056.2 688.7L1071.2 690.6L1082.5 680.5L1103.1 680.1L1112.1 672.0"/><path d="M245.4 669.0L246.2 670.0L251.9 674.5L261.2 673.7L272.5 669.2L283.7 673.0L295.0 670.7L310.0 675.6L317.5 681.2L332.5 685.0L345.6 690.6L350.5 681.2L346.5 669.0"/><path d="M124.4 685.0L137.5 690.6L156.2 692.5L171.2 698.1L186.2 701.9L197.5 700.0L212.5 686.9L229.4 677.5L238.7 685.0L240.6 700.0L250.0 706.7L261.2 700.0L280.0 699.2L293.1 695.5L300.6 701.9L302.5 715.0L300.6 730.0L296.9 743.1L302.5 751.7L313.7 743.1L325.0 733.7L336.2 724.4L351.2 720.6L362.5 709.4L371.9 701.9L376.7 698.1L377.5 694.4"/><path d="M377.5 698.1L388.7 709.4L400.0 716.9L409.4 715.0L416.9 731.9L426.2 743.1L430.0 745.0L433.7 726.2L439.4 705.6L452.5 696.2L460.0 690.6L471.2 688.7L482.5 681.2L493.7 674.5L501.2 679.4L508.7 670.0L509.7 669.0"/><path d="M552.3 669.0L559.4 677.5L563.1 692.5L563.1 707.5L555.6 724.4L542.5 735.6L529.4 745.0L516.2 754.4L503.1 767.5L491.9 782.5L488.1 793.0"/><path d="M124.4 719.5L133.7 713.1L145.0 713.1L156.2 720.6L167.5 733.7L178.7 745.0L190.0 752.5L208.7 756.2L220.0 754.4L227.5 767.5L225.6 782.5L231.2 791.9L242.5 797.5L250.0 801.2"/><path d="M124.4 770.5L133.7 778.7L148.7 784.4L156.2 790.0L160.0 795.6"/><path d="M261.2 718.7L272.5 718.0L281.9 720.6L276.2 735.6L270.6 745.0L261.2 746.9L256.7 741.2L256.7 730.0L261.2 718.7"/><path d="M235.0 720.6L240.6 714.2L245.5 719.5L239.5 727.0L235.0 720.6"/><path d="M373.7 675.6L378.2 669.2L388.0 675.6L378.2 685.0L373.7 675.6"/><path d="M273.2 801.2L274.4 790.0L283.7 780.6L295.0 776.9L306.2 771.2L317.5 763.7L332.5 752.5L341.9 743.1L355.0 740.5L366.2 735.6L377.5 746.9L383.1 760.0L386.9 769.4L396.2 756.2L407.5 746.9L415.0 760.0L422.5 773.1L433.7 780.6L441.2 782.5L448.7 780.6L445.0 767.5L445.7 756.2L450.6 748.7L460.0 746.9L471.2 746.9L482.5 739.4L493.7 728.1L505.0 709.4L516.2 692.5L523.7 679.4L535.0 671.9L546.2 673.7L553.7 681.2L558.2 694.4L558.2 711.2L553.7 726.2L542.5 733.7"/><path d="M512.5 791.9L514.4 778.7L523.7 771.2L538.7 765.6L550.0 756.2L555.6 754.4L565.0 760.0L557.5 771.2L550.0 782.5L544.4 793.0"/><path d="M550.0 793.7L559.4 780.6L568.7 769.4L572.5 756.2L566.9 745.0L560.5 737.5L565.0 722.5L568.7 705.6L566.9 688.7L559.4 671.9L556.0 669.0"/><path d="M575.0 704.1L574.4 703.7L570.6 692.5L568.7 677.5L565.0 670.0"/><path d="M763.6 797.5L773.7 786.2L785.0 775.7L796.2 772.0L803.7 765.6L822.5 764.5L839.4 765.6L848.7 776.9L860.0 776.9L869.4 767.5L869.4 754.4L878.7 744.2L890.0 743.1L903.1 731.9L920.0 731.9L933.1 731.9L944.4 721.7L965.0 720.6L976.2 710.5L987.5 700.0L1008.1 699.2L1019.4 689.5L1040.0 688.7"/><path d="M608.2 669.0L608.7 670.0L606.9 685.0L603.1 698.1L595.6 703.7L582.5 705.6L575.0 703.7L571.2 692.5L569.0 688.0"/><path d="M618.2 669.0L618.1 670.0L612.5 685.0L610.6 692.5L621.9 696.2L638.7 692.5L657.5 686.9L670.6 684.2L674.4 692.5L678.1 703.7L676.2 718.7L668.7 733.7L659.4 746.9L650.0 758.1L640.6 769.4L633.1 778.7L631.2 793.7"/><path d="M633.3 669.0L633.1 670.0L638.7 679.4L650.0 681.2L661.2 675.6L665.2 669.0"/><path d="M689.7 669.0L691.2 681.2L693.1 696.2L695.0 711.2L689.4 726.2L680.0 741.2L668.7 752.5L657.5 763.7L648.1 775.0L642.5 784.4L641.7 793.7"/><path d="M586.2 793.7L582.5 778.7L581.7 763.7L583.2 750.6L591.9 737.5L601.2 720.6L610.6 709.4L621.9 703.7L636.9 703.0L650.0 705.6L655.6 715.0L659.4 728.1L661.2 739.4"/><path d="M695.7 741.2L704.4 731.9L714.5 728.1L719.4 737.5L721.2 750.6L713.7 759.2L702.5 760.7L696.9 752.5L695.7 741.2"/><path d="M755.1 669.0L751.2 671.9L749.4 681.2L736.2 688.7L728.7 677.5L725.0 670.0"/><path d="M825.9 669.0L818.7 673.7L803.7 675.6L788.7 677.5L777.5 685.0L770.0 694.4L758.7 701.9L745.6 705.6L743.0 718.7L738.1 733.7L732.5 748.7L730.6 760.0L725.0 769.4L713.7 776.9L704.4 782.5L710.0 790.0L715.6 796.7"/><path d="M838.6 669.0L830.0 679.4L815.0 685.0L800.0 688.7L785.0 696.2L773.7 707.5L762.5 715.0L753.1 724.4L747.5 737.5L741.9 752.5L736.2 763.7L728.7 773.1L721.2 782.5L717.5 790.0L723.1 796.7"/><path d="M847.4 669.0L846.9 670.0L837.5 681.2L822.5 692.5L803.7 696.2L788.7 703.7L775.6 713.1L764.4 722.5L756.9 733.7L751.2 746.9L745.6 760.0L738.1 771.2L730.6 780.6L726.9 790.0L726.9 796.7"/><path d="M948.0 669.0L953.7 671.9L968.7 673.0L983.7 670.0L985.0 669.0"/></g>
<path d="M159.5 34.5V802.5M247.5 34.5V802.5M335.5 34.5V802.5M423.5 34.5V802.5M511.5 34.5V802.5M599.5 34.5V802.5M687.5 34.5V802.5M775.5 34.5V802.5M863.5 34.5V802.5M951.5 34.5V802.5M1039.5 34.5V802.5M115.5 737.5H1127.5M115.5 673.5H1127.5M115.5 610.5H1127.5M115.5 546.5H1127.5M115.5 481.5H1127.5M115.5 417.5H1127.5M115.5 353.5H1127.5M115.5 290.5H1127.5M115.5 226.5H1127.5M115.5 161.5H1127.5M115.5 97.5H1127.5" fill="none" stroke="#000" stroke-opacity="0.28" stroke-width="1" stroke-dasharray="1 3.4"/>
<g fill="none" stroke="#000" stroke-width="1" shape-rendering="crispEdges"><path d="M159.5 802.5v-14.5M159.5 34.5v14.5M203.5 802.5v-7.0M203.5 34.5v7.0M247.5 802.5v-14.5M247.5 34.5v14.5M291.5 802.5v-7.0M291.5 34.5v7.0M335.5 802.5v-14.5M335.5 34.5v14.5M379.5 802.5v-7.0M379.5 34.5v7.0M423.5 802.5v-14.5M423.5 34.5v14.5M467.5 802.5v-7.0M467.5 34.5v7.0M511.5 802.5v-14.5M511.5 34.5v14.5M555.5 802.5v-7.0M555.5 34.5v7.0M599.5 802.5v-14.5M599.5 34.5v14.5M643.5 802.5v-7.0M643.5 34.5v7.0M687.5 802.5v-14.5M687.5 34.5v14.5M731.5 802.5v-7.0M731.5 34.5v7.0M775.5 802.5v-14.5M775.5 34.5v14.5M819.5 802.5v-7.0M819.5 34.5v7.0M863.5 802.5v-14.5M863.5 34.5v14.5M907.5 802.5v-7.0M907.5 34.5v7.0M951.5 802.5v-14.5M951.5 34.5v14.5M995.5 802.5v-7.0M995.5 34.5v7.0M1039.5 802.5v-14.5M1039.5 34.5v14.5M1083.5 802.5v-7.0M1083.5 34.5v7.0M115.5 770.5h9.0M1127.5 770.5h-9.0M115.5 737.5h19.5M1127.5 737.5h-19.5M115.5 706.5h9.0M1127.5 706.5h-9.0M115.5 673.5h19.5M1127.5 673.5h-19.5M115.5 641.5h9.0M1127.5 641.5h-9.0M115.5 610.5h19.5M1127.5 610.5h-19.5M115.5 577.5h9.0M1127.5 577.5h-9.0M115.5 546.5h19.5M1127.5 546.5h-19.5M115.5 513.5h9.0M1127.5 513.5h-9.0M115.5 481.5h19.5M1127.5 481.5h-19.5M115.5 450.5h9.0M1127.5 450.5h-9.0M115.5 417.5h19.5M1127.5 417.5h-19.5M115.5 386.5h9.0M1127.5 386.5h-9.0M115.5 353.5h19.5M1127.5 353.5h-19.5M115.5 321.5h9.0M1127.5 321.5h-9.0M115.5 290.5h19.5M1127.5 290.5h-19.5M115.5 257.5h9.0M1127.5 257.5h-9.0M115.5 226.5h19.5M1127.5 226.5h-19.5M115.5 193.5h9.0M1127.5 193.5h-9.0M115.5 161.5h19.5M1127.5 161.5h-19.5M115.5 130.5h9.0M1127.5 130.5h-9.0M115.5 97.5h19.5M1127.5 97.5h-19.5M115.5 66.5h9.0M1127.5 66.5h-9.0"/>
<rect x="115.5" y="34.5" width="1012.0" height="768.0"/></g>
<rect x="1152.5" y="29.5" width="26.0" height="777.0" fill="url(#cb)"/>
<g fill="none" stroke="#000" stroke-width="1" shape-rendering="crispEdges"><path d="M1152.5 728.5h10M1178.5 728.5h-12M1152.5 650.5h10M1178.5 650.5h-12M1152.5 572.5h10M1178.5 572.5h-12M1152.5 495.5h10M1178.5 495.5h-12M1152.5 417.5h10M1178.5 417.5h-12M1152.5 339.5h10M1178.5 339.5h-12M1152.5 262.5h10M1178.5 262.5h-12M1152.5 184.5h10M1178.5 184.5h-12M1152.5 106.5h10M1178.5 106.5h-12"/><rect x="1152.5" y="29.5" width="26.0" height="777.0"/></g>
<g opacity="0.999"><text transform="translate(163.4,846.8) scale(1.000,1.000)" text-anchor="middle">-0.4</text><text transform="translate(251.4,846.8) scale(1.000,1.000)" text-anchor="middle">-0.2</text><text transform="translate(339.4,846.8) scale(1.000,1.000)" text-anchor="middle">0.0</text><text transform="translate(427.4,846.8) scale(1.000,1.000)" text-anchor="middle">0.2</text><text transform="translate(515.4,846.8) scale(1.000,1.000)" text-anchor="middle">0.4</text><text transform="translate(603.4,846.8) scale(1.000,1.000)" text-anchor="middle">0.6</text><text transform="translate(691.4,846.8) scale(1.000,1.000)" text-anchor="middle">0.8</text><text transform="translate(779.4,846.8) scale(1.000,1.000)" text-anchor="middle">1.0</text><text transform="translate(867.4,846.8) scale(1.000,1.000)" text-anchor="middle">1.2</text><text transform="translate(955.4,846.8) scale(1.000,1.000)" text-anchor="middle">1.4</text><text transform="translate(1043.4,846.8) scale(1.000,1.000)" text-anchor="middle">1.6</text><text transform="translate(1131.4,846.8) scale(1.000,1.000)" text-anchor="middle">1.8</text><text transform="translate(95.4,810.7) scale(1.000,1.000)" text-anchor="end">41.0</text><text transform="translate(95.4,746.7) scale(1.000,1.000)" text-anchor="end">41.1</text><text transform="translate(95.4,682.7) scale(1.000,1.000)" text-anchor="end">41.2</text><text transform="translate(95.4,618.7) scale(1.000,1.000)" text-anchor="end">41.3</text><text transform="translate(95.4,554.7) scale(1.000,1.000)" text-anchor="end">41.4</text><text transform="translate(95.4,490.7) scale(1.000,1.000)" text-anchor="end">41.5</text><text transform="translate(95.4,426.7) scale(1.000,1.000)" text-anchor="end">41.6</text><text transform="translate(95.4,362.7) scale(1.000,1.000)" text-anchor="end">41.7</text><text transform="translate(95.4,298.7) scale(1.000,1.000)" text-anchor="end">41.8</text><text transform="translate(95.4,234.7) scale(1.000,1.000)" text-anchor="end">41.9</text><text transform="translate(95.4,170.7) scale(1.000,1.000)" text-anchor="end">42.0</text><text transform="translate(95.4,106.7) scale(1.000,1.000)" text-anchor="end">42.1</text><text transform="translate(95.4,42.7) scale(1.000,1.000)" text-anchor="end">42.2</text><text transform="translate(1197.6,814.8) scale(1.000,1.000)" text-anchor="start">0</text><text transform="translate(1197.6,737.1) scale(1.000,1.000)" text-anchor="start">0.1</text><text transform="translate(1197.6,659.4) scale(1.000,1.000)" text-anchor="start">0.2</text><text transform="translate(1197.6,581.7) scale(1.000,1.000)" text-anchor="start">0.3</text><text transform="translate(1197.6,504.0) scale(1.000,1.000)" text-anchor="start">0.4</text><text transform="translate(1197.6,426.3) scale(1.000,1.000)" text-anchor="start">0.5</text><text transform="translate(1197.6,348.6) scale(1.000,1.000)" text-anchor="start">0.6</text><text transform="translate(1197.6,270.9) scale(1.000,1.000)" text-anchor="start">0.7</text><text transform="translate(1197.6,193.2) scale(1.000,1.000)" text-anchor="start">0.8</text><text transform="translate(1197.6,115.5) scale(1.000,1.000)" text-anchor="start">0.9</text><text transform="translate(1197.6,37.8) scale(1.000,1.000)" text-anchor="start">1</text>
<text transform="translate(621.6,890.3) scale(1.110,1.000)" text-anchor="middle">longitude (°)</text>
<text transform="translate(45.6,419.0) rotate(-90) scale(1.110,1.000)" text-anchor="middle">latitude (°)</text>
<text transform="translate(1260.0,418.4) rotate(-90) scale(1.095,1.080)" text-anchor="middle">albedo</text>
</g>
</svg>
</body></html>
